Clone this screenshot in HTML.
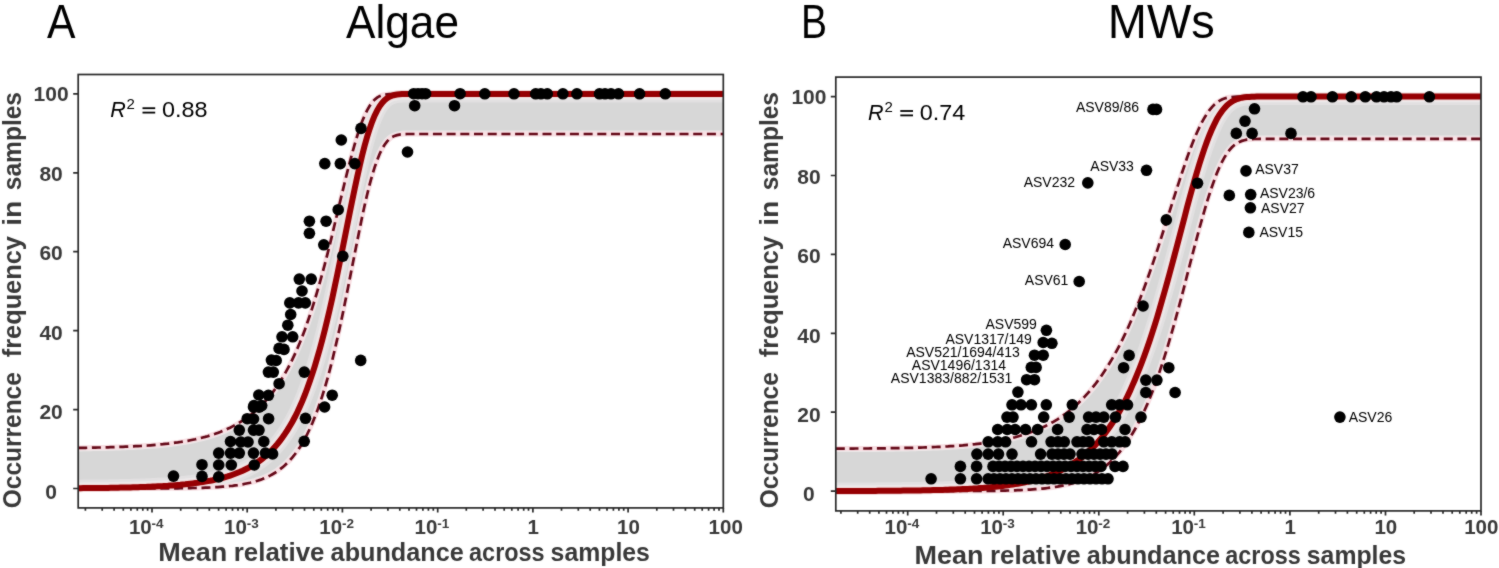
<!DOCTYPE html>
<html><head><meta charset="utf-8"><style>
html,body{margin:0;padding:0;background:#fff;width:1499px;height:568px;overflow:hidden}
svg{display:block;will-change:transform}
text{font-family:"Liberation Sans", sans-serif}
</style></head><body>
<svg width="1499" height="568" viewBox="0 0 1499 568" font-family="'Liberation Sans', sans-serif">
<defs><filter id="soft" x="0" y="0" width="1499" height="568" filterUnits="userSpaceOnUse" color-interpolation-filters="sRGB"><feConvolveMatrix order="3" kernelMatrix="1 2 1 2 20 2 1 2 1" edgeMode="duplicate" preserveAlpha="true"/></filter></defs>
<g filter="url(#soft)">
<rect width="1499" height="568" fill="#fff"/>
<clipPath id="clipA"><rect x="78.2" y="74.5" width="645.0999999999999" height="433.4"/></clipPath>
<g clip-path="url(#clipA)">
<clipPath id="bandA"><path d="M78.2,447.9 L80.7,447.9 L83.2,447.8 L85.7,447.8 L88.2,447.7 L90.7,447.7 L93.1,447.6 L95.6,447.6 L98.1,447.5 L100.6,447.5 L103.1,447.4 L105.6,447.4 L108.1,447.3 L110.6,447.2 L113.1,447.2 L115.6,447.1 L118.1,447.0 L120.5,446.9 L123.0,446.8 L125.5,446.7 L128.0,446.6 L130.5,446.5 L133.0,446.4 L135.5,446.2 L138.0,446.1 L140.5,446.0 L143.0,445.8 L145.4,445.6 L147.9,445.5 L150.4,445.3 L152.9,445.1 L155.4,444.9 L157.9,444.7 L160.4,444.4 L162.9,444.2 L165.4,443.9 L167.9,443.7 L170.4,443.4 L172.8,443.1 L175.3,442.7 L177.8,442.4 L180.3,442.0 L182.8,441.6 L185.3,441.2 L187.8,440.8 L190.3,440.3 L192.8,439.8 L195.3,439.3 L197.8,438.7 L200.2,438.1 L202.7,437.5 L205.2,436.9 L207.7,436.2 L210.2,435.4 L212.7,434.6 L215.2,433.8 L217.7,432.9 L220.2,432.0 L222.7,431.0 L225.2,430.0 L227.6,428.8 L230.1,427.7 L232.6,426.4 L235.1,425.1 L237.6,423.7 L240.1,422.2 L242.6,420.7 L245.1,419.0 L247.6,417.2 L250.1,415.4 L252.6,413.4 L255.0,411.3 L257.5,409.1 L260.0,406.7 L262.5,404.2 L265.0,401.6 L267.5,398.7 L270.0,395.8 L272.5,392.6 L275.0,389.2 L277.5,385.7 L279.9,381.9 L282.4,377.9 L284.9,373.7 L287.4,369.2 L289.9,364.5 L292.4,359.4 L294.9,354.1 L297.4,348.5 L299.9,342.6 L302.4,336.3 L304.9,329.7 L307.3,322.8 L309.8,315.5 L312.3,307.8 L314.8,299.8 L317.3,291.4 L319.8,282.7 L322.3,273.7 L324.8,264.3 L327.3,254.6 L329.8,244.7 L332.3,234.5 L334.7,224.2 L337.2,213.8 L339.7,203.3 L342.2,192.9 L344.7,182.5 L347.2,172.4 L349.7,162.6 L352.2,153.2 L354.7,144.3 L357.2,136.0 L359.7,128.4 L362.1,121.6 L364.6,115.6 L367.1,110.4 L369.6,106.0 L372.1,102.5 L374.6,99.7 L377.1,97.7 L379.6,96.2 L382.1,95.2 L384.6,94.6 L387.1,94.3 L389.5,94.1 L392.0,94.0 L394.5,93.9 L397.0,93.9 L399.5,93.9 L402.0,93.9 L404.5,93.9 L407.0,93.9 L409.5,93.9 L412.0,93.9 L414.4,93.9 L416.9,93.9 L419.4,93.9 L421.9,93.9 L424.4,93.9 L426.9,93.9 L429.4,93.9 L431.9,93.9 L434.4,93.9 L436.9,93.9 L439.4,93.9 L441.8,93.9 L444.3,93.9 L446.8,93.9 L449.3,93.9 L451.8,93.9 L454.3,93.9 L456.8,93.9 L459.3,93.9 L461.8,93.9 L464.3,93.9 L466.8,93.9 L469.2,93.9 L471.7,93.9 L474.2,93.9 L476.7,93.9 L479.2,93.9 L481.7,93.9 L484.2,93.9 L486.7,93.9 L489.2,93.9 L491.7,93.9 L494.2,93.9 L496.6,93.9 L499.1,93.9 L501.6,93.9 L504.1,93.9 L506.6,93.9 L509.1,93.9 L511.6,93.9 L514.1,93.9 L516.6,93.9 L519.1,93.9 L521.6,93.9 L524.0,93.9 L526.5,93.9 L529.0,93.9 L531.5,93.9 L534.0,93.9 L536.5,93.9 L539.0,93.9 L541.5,93.9 L544.0,93.9 L546.5,93.9 L548.9,93.9 L551.4,93.9 L553.9,93.9 L556.4,93.9 L558.9,93.9 L561.4,93.9 L563.9,93.9 L566.4,93.9 L568.9,93.9 L571.4,93.9 L573.9,93.9 L576.3,93.9 L578.8,93.9 L581.3,93.9 L583.8,93.9 L586.3,93.9 L588.8,93.9 L591.3,93.9 L593.8,93.9 L596.3,93.9 L598.8,93.9 L601.3,93.9 L603.7,93.9 L606.2,93.9 L608.7,93.9 L611.2,93.9 L613.7,93.9 L616.2,93.9 L618.7,93.9 L621.2,93.9 L623.7,93.9 L626.2,93.9 L628.7,93.9 L631.1,93.9 L633.6,93.9 L636.1,93.9 L638.6,93.9 L641.1,93.9 L643.6,93.9 L646.1,93.9 L648.6,93.9 L651.1,93.9 L653.6,93.9 L656.1,93.9 L658.5,93.9 L661.0,93.9 L663.5,93.9 L666.0,93.9 L668.5,93.9 L671.0,93.9 L673.5,93.9 L676.0,93.9 L678.5,93.9 L681.0,93.9 L683.4,93.9 L685.9,93.9 L688.4,93.9 L690.9,93.9 L693.4,93.9 L695.9,93.9 L698.4,93.9 L700.9,93.9 L703.4,93.9 L705.9,93.9 L708.4,93.9 L710.8,93.9 L713.3,93.9 L715.8,93.9 L718.3,93.9 L720.8,93.9 L723.3,93.9 L723.3,134.0 L720.8,134.0 L718.3,134.0 L715.8,134.0 L713.3,134.0 L710.8,134.0 L708.4,134.0 L705.9,134.0 L703.4,134.0 L700.9,134.0 L698.4,134.0 L695.9,134.0 L693.4,134.0 L690.9,134.0 L688.4,134.0 L685.9,134.0 L683.4,134.0 L681.0,134.0 L678.5,134.0 L676.0,134.0 L673.5,134.0 L671.0,134.0 L668.5,134.0 L666.0,134.0 L663.5,134.0 L661.0,134.0 L658.5,134.0 L656.1,134.0 L653.6,134.0 L651.1,134.0 L648.6,134.0 L646.1,134.0 L643.6,134.0 L641.1,134.0 L638.6,134.0 L636.1,134.0 L633.6,134.0 L631.1,134.0 L628.7,134.0 L626.2,134.0 L623.7,134.0 L621.2,134.0 L618.7,134.0 L616.2,134.0 L613.7,134.0 L611.2,134.0 L608.7,134.0 L606.2,134.0 L603.7,134.0 L601.3,134.0 L598.8,134.0 L596.3,134.0 L593.8,134.0 L591.3,134.0 L588.8,134.0 L586.3,134.0 L583.8,134.0 L581.3,134.0 L578.8,134.0 L576.3,134.0 L573.9,134.0 L571.4,134.0 L568.9,134.0 L566.4,134.0 L563.9,134.0 L561.4,134.0 L558.9,134.0 L556.4,134.0 L553.9,134.0 L551.4,134.0 L548.9,134.0 L546.5,134.0 L544.0,134.0 L541.5,134.0 L539.0,134.0 L536.5,134.0 L534.0,134.0 L531.5,134.0 L529.0,134.0 L526.5,134.0 L524.0,134.0 L521.6,134.0 L519.1,134.0 L516.6,134.0 L514.1,134.0 L511.6,134.0 L509.1,134.0 L506.6,134.0 L504.1,134.0 L501.6,134.0 L499.1,134.0 L496.6,134.0 L494.2,134.0 L491.7,134.0 L489.2,134.0 L486.7,134.0 L484.2,134.0 L481.7,134.0 L479.2,134.0 L476.7,134.0 L474.2,134.0 L471.7,134.0 L469.2,134.0 L466.8,134.0 L464.3,134.0 L461.8,134.0 L459.3,134.0 L456.8,134.0 L454.3,134.0 L451.8,134.0 L449.3,134.0 L446.8,134.0 L444.3,134.0 L441.8,134.0 L439.4,134.0 L436.9,134.0 L434.4,134.0 L431.9,134.0 L429.4,134.0 L426.9,134.0 L424.4,134.0 L421.9,134.0 L419.4,134.0 L416.9,134.0 L414.4,134.0 L412.0,134.0 L409.5,134.0 L407.0,134.0 L404.5,134.1 L402.0,134.3 L399.5,134.6 L397.0,135.1 L394.5,135.9 L392.0,137.1 L389.5,138.9 L387.1,141.4 L384.6,144.7 L382.1,148.8 L379.6,154.0 L377.1,160.2 L374.6,167.4 L372.1,175.6 L369.6,184.7 L367.1,194.7 L364.6,205.5 L362.1,216.9 L359.7,228.8 L357.2,241.2 L354.7,253.7 L352.2,266.4 L349.7,279.1 L347.2,291.7 L344.7,304.1 L342.2,316.2 L339.7,327.9 L337.2,339.1 L334.7,349.9 L332.3,360.2 L329.8,369.9 L327.3,379.2 L324.8,387.8 L322.3,395.9 L319.8,403.5 L317.3,410.6 L314.8,417.1 L312.3,423.2 L309.8,428.8 L307.3,434.0 L304.9,438.8 L302.4,443.2 L299.9,447.2 L297.4,450.9 L294.9,454.3 L292.4,457.4 L289.9,460.2 L287.4,462.8 L284.9,465.2 L282.4,467.4 L279.9,469.3 L277.5,471.1 L275.0,472.8 L272.5,474.2 L270.0,475.6 L267.5,476.8 L265.0,477.9 L262.5,479.0 L260.0,479.9 L257.5,480.7 L255.0,481.5 L252.6,482.2 L250.1,482.8 L247.6,483.3 L245.1,483.8 L242.6,484.3 L240.1,484.7 L237.6,485.1 L235.1,485.4 L232.6,485.8 L230.1,486.0 L227.6,486.3 L225.2,486.5 L222.7,486.7 L220.2,486.9 L217.7,487.1 L215.2,487.2 L212.7,487.3 L210.2,487.5 L207.7,487.6 L205.2,487.7 L202.7,487.8 L200.2,487.8 L197.8,487.9 L195.3,488.0 L192.8,488.0 L190.3,488.1 L187.8,488.1 L185.3,488.2 L182.8,488.2 L180.3,488.2 L177.8,488.3 L175.3,488.3 L172.8,488.3 L170.4,488.3 L167.9,488.3 L165.4,488.4 L162.9,488.4 L160.4,488.4 L157.9,488.4 L155.4,488.4 L152.9,488.4 L150.4,488.4 L147.9,488.4 L145.4,488.4 L143.0,488.5 L140.5,488.5 L138.0,488.5 L135.5,488.5 L133.0,488.5 L130.5,488.5 L128.0,488.5 L125.5,488.5 L123.0,488.5 L120.5,488.5 L118.1,488.5 L115.6,488.5 L113.1,488.5 L110.6,488.5 L108.1,488.5 L105.6,488.5 L103.1,488.5 L100.6,488.5 L98.1,488.5 L95.6,488.5 L93.1,488.5 L90.7,488.5 L88.2,488.5 L85.7,488.5 L83.2,488.5 L80.7,488.5 L78.2,488.5 Z"/></clipPath>
<path d="M78.2,447.9 L80.7,447.9 L83.2,447.8 L85.7,447.8 L88.2,447.7 L90.7,447.7 L93.1,447.6 L95.6,447.6 L98.1,447.5 L100.6,447.5 L103.1,447.4 L105.6,447.4 L108.1,447.3 L110.6,447.2 L113.1,447.2 L115.6,447.1 L118.1,447.0 L120.5,446.9 L123.0,446.8 L125.5,446.7 L128.0,446.6 L130.5,446.5 L133.0,446.4 L135.5,446.2 L138.0,446.1 L140.5,446.0 L143.0,445.8 L145.4,445.6 L147.9,445.5 L150.4,445.3 L152.9,445.1 L155.4,444.9 L157.9,444.7 L160.4,444.4 L162.9,444.2 L165.4,443.9 L167.9,443.7 L170.4,443.4 L172.8,443.1 L175.3,442.7 L177.8,442.4 L180.3,442.0 L182.8,441.6 L185.3,441.2 L187.8,440.8 L190.3,440.3 L192.8,439.8 L195.3,439.3 L197.8,438.7 L200.2,438.1 L202.7,437.5 L205.2,436.9 L207.7,436.2 L210.2,435.4 L212.7,434.6 L215.2,433.8 L217.7,432.9 L220.2,432.0 L222.7,431.0 L225.2,430.0 L227.6,428.8 L230.1,427.7 L232.6,426.4 L235.1,425.1 L237.6,423.7 L240.1,422.2 L242.6,420.7 L245.1,419.0 L247.6,417.2 L250.1,415.4 L252.6,413.4 L255.0,411.3 L257.5,409.1 L260.0,406.7 L262.5,404.2 L265.0,401.6 L267.5,398.7 L270.0,395.8 L272.5,392.6 L275.0,389.2 L277.5,385.7 L279.9,381.9 L282.4,377.9 L284.9,373.7 L287.4,369.2 L289.9,364.5 L292.4,359.4 L294.9,354.1 L297.4,348.5 L299.9,342.6 L302.4,336.3 L304.9,329.7 L307.3,322.8 L309.8,315.5 L312.3,307.8 L314.8,299.8 L317.3,291.4 L319.8,282.7 L322.3,273.7 L324.8,264.3 L327.3,254.6 L329.8,244.7 L332.3,234.5 L334.7,224.2 L337.2,213.8 L339.7,203.3 L342.2,192.9 L344.7,182.5 L347.2,172.4 L349.7,162.6 L352.2,153.2 L354.7,144.3 L357.2,136.0 L359.7,128.4 L362.1,121.6 L364.6,115.6 L367.1,110.4 L369.6,106.0 L372.1,102.5 L374.6,99.7 L377.1,97.7 L379.6,96.2 L382.1,95.2 L384.6,94.6 L387.1,94.3 L389.5,94.1 L392.0,94.0 L394.5,93.9 L397.0,93.9 L399.5,93.9 L402.0,93.9 L404.5,93.9 L407.0,93.9 L409.5,93.9 L412.0,93.9 L414.4,93.9 L416.9,93.9 L419.4,93.9 L421.9,93.9 L424.4,93.9 L426.9,93.9 L429.4,93.9 L431.9,93.9 L434.4,93.9 L436.9,93.9 L439.4,93.9 L441.8,93.9 L444.3,93.9 L446.8,93.9 L449.3,93.9 L451.8,93.9 L454.3,93.9 L456.8,93.9 L459.3,93.9 L461.8,93.9 L464.3,93.9 L466.8,93.9 L469.2,93.9 L471.7,93.9 L474.2,93.9 L476.7,93.9 L479.2,93.9 L481.7,93.9 L484.2,93.9 L486.7,93.9 L489.2,93.9 L491.7,93.9 L494.2,93.9 L496.6,93.9 L499.1,93.9 L501.6,93.9 L504.1,93.9 L506.6,93.9 L509.1,93.9 L511.6,93.9 L514.1,93.9 L516.6,93.9 L519.1,93.9 L521.6,93.9 L524.0,93.9 L526.5,93.9 L529.0,93.9 L531.5,93.9 L534.0,93.9 L536.5,93.9 L539.0,93.9 L541.5,93.9 L544.0,93.9 L546.5,93.9 L548.9,93.9 L551.4,93.9 L553.9,93.9 L556.4,93.9 L558.9,93.9 L561.4,93.9 L563.9,93.9 L566.4,93.9 L568.9,93.9 L571.4,93.9 L573.9,93.9 L576.3,93.9 L578.8,93.9 L581.3,93.9 L583.8,93.9 L586.3,93.9 L588.8,93.9 L591.3,93.9 L593.8,93.9 L596.3,93.9 L598.8,93.9 L601.3,93.9 L603.7,93.9 L606.2,93.9 L608.7,93.9 L611.2,93.9 L613.7,93.9 L616.2,93.9 L618.7,93.9 L621.2,93.9 L623.7,93.9 L626.2,93.9 L628.7,93.9 L631.1,93.9 L633.6,93.9 L636.1,93.9 L638.6,93.9 L641.1,93.9 L643.6,93.9 L646.1,93.9 L648.6,93.9 L651.1,93.9 L653.6,93.9 L656.1,93.9 L658.5,93.9 L661.0,93.9 L663.5,93.9 L666.0,93.9 L668.5,93.9 L671.0,93.9 L673.5,93.9 L676.0,93.9 L678.5,93.9 L681.0,93.9 L683.4,93.9 L685.9,93.9 L688.4,93.9 L690.9,93.9 L693.4,93.9 L695.9,93.9 L698.4,93.9 L700.9,93.9 L703.4,93.9 L705.9,93.9 L708.4,93.9 L710.8,93.9 L713.3,93.9 L715.8,93.9 L718.3,93.9 L720.8,93.9 L723.3,93.9 L723.3,134.0 L720.8,134.0 L718.3,134.0 L715.8,134.0 L713.3,134.0 L710.8,134.0 L708.4,134.0 L705.9,134.0 L703.4,134.0 L700.9,134.0 L698.4,134.0 L695.9,134.0 L693.4,134.0 L690.9,134.0 L688.4,134.0 L685.9,134.0 L683.4,134.0 L681.0,134.0 L678.5,134.0 L676.0,134.0 L673.5,134.0 L671.0,134.0 L668.5,134.0 L666.0,134.0 L663.5,134.0 L661.0,134.0 L658.5,134.0 L656.1,134.0 L653.6,134.0 L651.1,134.0 L648.6,134.0 L646.1,134.0 L643.6,134.0 L641.1,134.0 L638.6,134.0 L636.1,134.0 L633.6,134.0 L631.1,134.0 L628.7,134.0 L626.2,134.0 L623.7,134.0 L621.2,134.0 L618.7,134.0 L616.2,134.0 L613.7,134.0 L611.2,134.0 L608.7,134.0 L606.2,134.0 L603.7,134.0 L601.3,134.0 L598.8,134.0 L596.3,134.0 L593.8,134.0 L591.3,134.0 L588.8,134.0 L586.3,134.0 L583.8,134.0 L581.3,134.0 L578.8,134.0 L576.3,134.0 L573.9,134.0 L571.4,134.0 L568.9,134.0 L566.4,134.0 L563.9,134.0 L561.4,134.0 L558.9,134.0 L556.4,134.0 L553.9,134.0 L551.4,134.0 L548.9,134.0 L546.5,134.0 L544.0,134.0 L541.5,134.0 L539.0,134.0 L536.5,134.0 L534.0,134.0 L531.5,134.0 L529.0,134.0 L526.5,134.0 L524.0,134.0 L521.6,134.0 L519.1,134.0 L516.6,134.0 L514.1,134.0 L511.6,134.0 L509.1,134.0 L506.6,134.0 L504.1,134.0 L501.6,134.0 L499.1,134.0 L496.6,134.0 L494.2,134.0 L491.7,134.0 L489.2,134.0 L486.7,134.0 L484.2,134.0 L481.7,134.0 L479.2,134.0 L476.7,134.0 L474.2,134.0 L471.7,134.0 L469.2,134.0 L466.8,134.0 L464.3,134.0 L461.8,134.0 L459.3,134.0 L456.8,134.0 L454.3,134.0 L451.8,134.0 L449.3,134.0 L446.8,134.0 L444.3,134.0 L441.8,134.0 L439.4,134.0 L436.9,134.0 L434.4,134.0 L431.9,134.0 L429.4,134.0 L426.9,134.0 L424.4,134.0 L421.9,134.0 L419.4,134.0 L416.9,134.0 L414.4,134.0 L412.0,134.0 L409.5,134.0 L407.0,134.0 L404.5,134.1 L402.0,134.3 L399.5,134.6 L397.0,135.1 L394.5,135.9 L392.0,137.1 L389.5,138.9 L387.1,141.4 L384.6,144.7 L382.1,148.8 L379.6,154.0 L377.1,160.2 L374.6,167.4 L372.1,175.6 L369.6,184.7 L367.1,194.7 L364.6,205.5 L362.1,216.9 L359.7,228.8 L357.2,241.2 L354.7,253.7 L352.2,266.4 L349.7,279.1 L347.2,291.7 L344.7,304.1 L342.2,316.2 L339.7,327.9 L337.2,339.1 L334.7,349.9 L332.3,360.2 L329.8,369.9 L327.3,379.2 L324.8,387.8 L322.3,395.9 L319.8,403.5 L317.3,410.6 L314.8,417.1 L312.3,423.2 L309.8,428.8 L307.3,434.0 L304.9,438.8 L302.4,443.2 L299.9,447.2 L297.4,450.9 L294.9,454.3 L292.4,457.4 L289.9,460.2 L287.4,462.8 L284.9,465.2 L282.4,467.4 L279.9,469.3 L277.5,471.1 L275.0,472.8 L272.5,474.2 L270.0,475.6 L267.5,476.8 L265.0,477.9 L262.5,479.0 L260.0,479.9 L257.5,480.7 L255.0,481.5 L252.6,482.2 L250.1,482.8 L247.6,483.3 L245.1,483.8 L242.6,484.3 L240.1,484.7 L237.6,485.1 L235.1,485.4 L232.6,485.8 L230.1,486.0 L227.6,486.3 L225.2,486.5 L222.7,486.7 L220.2,486.9 L217.7,487.1 L215.2,487.2 L212.7,487.3 L210.2,487.5 L207.7,487.6 L205.2,487.7 L202.7,487.8 L200.2,487.8 L197.8,487.9 L195.3,488.0 L192.8,488.0 L190.3,488.1 L187.8,488.1 L185.3,488.2 L182.8,488.2 L180.3,488.2 L177.8,488.3 L175.3,488.3 L172.8,488.3 L170.4,488.3 L167.9,488.3 L165.4,488.4 L162.9,488.4 L160.4,488.4 L157.9,488.4 L155.4,488.4 L152.9,488.4 L150.4,488.4 L147.9,488.4 L145.4,488.4 L143.0,488.5 L140.5,488.5 L138.0,488.5 L135.5,488.5 L133.0,488.5 L130.5,488.5 L128.0,488.5 L125.5,488.5 L123.0,488.5 L120.5,488.5 L118.1,488.5 L115.6,488.5 L113.1,488.5 L110.6,488.5 L108.1,488.5 L105.6,488.5 L103.1,488.5 L100.6,488.5 L98.1,488.5 L95.6,488.5 L93.1,488.5 L90.7,488.5 L88.2,488.5 L85.7,488.5 L83.2,488.5 L80.7,488.5 L78.2,488.5 Z" fill="#d7d7d7"/>
<g clip-path="url(#bandA)">
<path d="M78.2,488.2 L80.7,488.2 L83.2,488.1 L85.7,488.1 L88.2,488.1 L90.7,488.1 L93.1,488.1 L95.6,488.0 L98.1,488.0 L100.6,488.0 L103.1,487.9 L105.6,487.9 L108.1,487.9 L110.6,487.8 L113.1,487.8 L115.6,487.7 L118.1,487.7 L120.5,487.6 L123.0,487.6 L125.5,487.5 L128.0,487.5 L130.5,487.4 L133.0,487.3 L135.5,487.3 L138.0,487.2 L140.5,487.1 L143.0,487.0 L145.4,486.9 L147.9,486.8 L150.4,486.7 L152.9,486.6 L155.4,486.5 L157.9,486.3 L160.4,486.2 L162.9,486.1 L165.4,485.9 L167.9,485.8 L170.4,485.6 L172.8,485.4 L175.3,485.2 L177.8,485.0 L180.3,484.8 L182.8,484.5 L185.3,484.3 L187.8,484.0 L190.3,483.7 L192.8,483.4 L195.3,483.1 L197.8,482.8 L200.2,482.4 L202.7,482.0 L205.2,481.6 L207.7,481.1 L210.2,480.7 L212.7,480.2 L215.2,479.6 L217.7,479.1 L220.2,478.5 L222.7,477.8 L225.2,477.1 L227.6,476.4 L230.1,475.6 L232.6,474.7 L235.1,473.8 L237.6,472.8 L240.1,471.8 L242.6,470.7 L245.1,469.5 L247.6,468.3 L250.1,466.9 L252.6,465.5 L255.0,463.9 L257.5,462.3 L260.0,460.5 L262.5,458.6 L265.0,456.5 L267.5,454.3 L270.0,452.0 L272.5,449.5 L275.0,446.8 L277.5,443.9 L279.9,440.8 L282.4,437.5 L284.9,433.9 L287.4,430.1 L289.9,426.0 L292.4,421.7 L294.9,417.0 L297.4,412.0 L299.9,406.6 L302.4,400.9 L304.9,394.7 L307.3,388.2 L309.8,381.3 L312.3,373.9 L314.8,366.1 L317.3,357.7 L319.8,349.0 L322.3,339.7 L324.8,330.0 L327.3,319.8 L329.8,309.1 L332.3,298.1 L334.7,286.6 L337.2,274.8 L339.7,262.7 L342.2,250.4 L344.7,237.9 L347.2,225.4 L349.7,212.9 L352.2,200.6 L354.7,188.6 L357.2,177.0 L359.7,165.9 L362.1,155.5 L364.6,145.8 L367.1,136.9 L369.6,128.9 L372.1,121.8 L374.6,115.7 L377.1,110.6 L379.6,106.3 L382.1,102.9 L384.6,100.2 L387.1,98.2 L389.5,96.7 L392.0,95.7 L394.5,95.0 L397.0,94.5 L399.5,94.3 L402.0,94.1 L404.5,94.0 L407.0,93.9 L409.5,93.9 L412.0,93.9 L414.4,93.9 L416.9,93.9 L419.4,93.9 L421.9,93.9 L424.4,93.9 L426.9,93.9 L429.4,93.9 L431.9,93.9 L434.4,93.9 L436.9,93.9 L439.4,93.9 L441.8,93.9 L444.3,93.9 L446.8,93.9 L449.3,93.9 L451.8,93.9 L454.3,93.9 L456.8,93.9 L459.3,93.9 L461.8,93.9 L464.3,93.9 L466.8,93.9 L469.2,93.9 L471.7,93.9 L474.2,93.9 L476.7,93.9 L479.2,93.9 L481.7,93.9 L484.2,93.9 L486.7,93.9 L489.2,93.9 L491.7,93.9 L494.2,93.9 L496.6,93.9 L499.1,93.9 L501.6,93.9 L504.1,93.9 L506.6,93.9 L509.1,93.9 L511.6,93.9 L514.1,93.9 L516.6,93.9 L519.1,93.9 L521.6,93.9 L524.0,93.9 L526.5,93.9 L529.0,93.9 L531.5,93.9 L534.0,93.9 L536.5,93.9 L539.0,93.9 L541.5,93.9 L544.0,93.9 L546.5,93.9 L548.9,93.9 L551.4,93.9 L553.9,93.9 L556.4,93.9 L558.9,93.9 L561.4,93.9 L563.9,93.9 L566.4,93.9 L568.9,93.9 L571.4,93.9 L573.9,93.9 L576.3,93.9 L578.8,93.9 L581.3,93.9 L583.8,93.9 L586.3,93.9 L588.8,93.9 L591.3,93.9 L593.8,93.9 L596.3,93.9 L598.8,93.9 L601.3,93.9 L603.7,93.9 L606.2,93.9 L608.7,93.9 L611.2,93.9 L613.7,93.9 L616.2,93.9 L618.7,93.9 L621.2,93.9 L623.7,93.9 L626.2,93.9 L628.7,93.9 L631.1,93.9 L633.6,93.9 L636.1,93.9 L638.6,93.9 L641.1,93.9 L643.6,93.9 L646.1,93.9 L648.6,93.9 L651.1,93.9 L653.6,93.9 L656.1,93.9 L658.5,93.9 L661.0,93.9 L663.5,93.9 L666.0,93.9 L668.5,93.9 L671.0,93.9 L673.5,93.9 L676.0,93.9 L678.5,93.9 L681.0,93.9 L683.4,93.9 L685.9,93.9 L688.4,93.9 L690.9,93.9 L693.4,93.9 L695.9,93.9 L698.4,93.9 L700.9,93.9 L703.4,93.9 L705.9,93.9 L708.4,93.9 L710.8,93.9 L713.3,93.9 L715.8,93.9 L718.3,93.9 L720.8,93.9 L723.3,93.9" fill="none" stroke="#e2e0e1" stroke-width="17"/>
<path d="M78.2,488.2 L80.7,488.2 L83.2,488.1 L85.7,488.1 L88.2,488.1 L90.7,488.1 L93.1,488.1 L95.6,488.0 L98.1,488.0 L100.6,488.0 L103.1,487.9 L105.6,487.9 L108.1,487.9 L110.6,487.8 L113.1,487.8 L115.6,487.7 L118.1,487.7 L120.5,487.6 L123.0,487.6 L125.5,487.5 L128.0,487.5 L130.5,487.4 L133.0,487.3 L135.5,487.3 L138.0,487.2 L140.5,487.1 L143.0,487.0 L145.4,486.9 L147.9,486.8 L150.4,486.7 L152.9,486.6 L155.4,486.5 L157.9,486.3 L160.4,486.2 L162.9,486.1 L165.4,485.9 L167.9,485.8 L170.4,485.6 L172.8,485.4 L175.3,485.2 L177.8,485.0 L180.3,484.8 L182.8,484.5 L185.3,484.3 L187.8,484.0 L190.3,483.7 L192.8,483.4 L195.3,483.1 L197.8,482.8 L200.2,482.4 L202.7,482.0 L205.2,481.6 L207.7,481.1 L210.2,480.7 L212.7,480.2 L215.2,479.6 L217.7,479.1 L220.2,478.5 L222.7,477.8 L225.2,477.1 L227.6,476.4 L230.1,475.6 L232.6,474.7 L235.1,473.8 L237.6,472.8 L240.1,471.8 L242.6,470.7 L245.1,469.5 L247.6,468.3 L250.1,466.9 L252.6,465.5 L255.0,463.9 L257.5,462.3 L260.0,460.5 L262.5,458.6 L265.0,456.5 L267.5,454.3 L270.0,452.0 L272.5,449.5 L275.0,446.8 L277.5,443.9 L279.9,440.8 L282.4,437.5 L284.9,433.9 L287.4,430.1 L289.9,426.0 L292.4,421.7 L294.9,417.0 L297.4,412.0 L299.9,406.6 L302.4,400.9 L304.9,394.7 L307.3,388.2 L309.8,381.3 L312.3,373.9 L314.8,366.1 L317.3,357.7 L319.8,349.0 L322.3,339.7 L324.8,330.0 L327.3,319.8 L329.8,309.1 L332.3,298.1 L334.7,286.6 L337.2,274.8 L339.7,262.7 L342.2,250.4 L344.7,237.9 L347.2,225.4 L349.7,212.9 L352.2,200.6 L354.7,188.6 L357.2,177.0 L359.7,165.9 L362.1,155.5 L364.6,145.8 L367.1,136.9 L369.6,128.9 L372.1,121.8 L374.6,115.7 L377.1,110.6 L379.6,106.3 L382.1,102.9 L384.6,100.2 L387.1,98.2 L389.5,96.7 L392.0,95.7 L394.5,95.0 L397.0,94.5 L399.5,94.3 L402.0,94.1 L404.5,94.0 L407.0,93.9 L409.5,93.9 L412.0,93.9 L414.4,93.9 L416.9,93.9 L419.4,93.9 L421.9,93.9 L424.4,93.9 L426.9,93.9 L429.4,93.9 L431.9,93.9 L434.4,93.9 L436.9,93.9 L439.4,93.9 L441.8,93.9 L444.3,93.9 L446.8,93.9 L449.3,93.9 L451.8,93.9 L454.3,93.9 L456.8,93.9 L459.3,93.9 L461.8,93.9 L464.3,93.9 L466.8,93.9 L469.2,93.9 L471.7,93.9 L474.2,93.9 L476.7,93.9 L479.2,93.9 L481.7,93.9 L484.2,93.9 L486.7,93.9 L489.2,93.9 L491.7,93.9 L494.2,93.9 L496.6,93.9 L499.1,93.9 L501.6,93.9 L504.1,93.9 L506.6,93.9 L509.1,93.9 L511.6,93.9 L514.1,93.9 L516.6,93.9 L519.1,93.9 L521.6,93.9 L524.0,93.9 L526.5,93.9 L529.0,93.9 L531.5,93.9 L534.0,93.9 L536.5,93.9 L539.0,93.9 L541.5,93.9 L544.0,93.9 L546.5,93.9 L548.9,93.9 L551.4,93.9 L553.9,93.9 L556.4,93.9 L558.9,93.9 L561.4,93.9 L563.9,93.9 L566.4,93.9 L568.9,93.9 L571.4,93.9 L573.9,93.9 L576.3,93.9 L578.8,93.9 L581.3,93.9 L583.8,93.9 L586.3,93.9 L588.8,93.9 L591.3,93.9 L593.8,93.9 L596.3,93.9 L598.8,93.9 L601.3,93.9 L603.7,93.9 L606.2,93.9 L608.7,93.9 L611.2,93.9 L613.7,93.9 L616.2,93.9 L618.7,93.9 L621.2,93.9 L623.7,93.9 L626.2,93.9 L628.7,93.9 L631.1,93.9 L633.6,93.9 L636.1,93.9 L638.6,93.9 L641.1,93.9 L643.6,93.9 L646.1,93.9 L648.6,93.9 L651.1,93.9 L653.6,93.9 L656.1,93.9 L658.5,93.9 L661.0,93.9 L663.5,93.9 L666.0,93.9 L668.5,93.9 L671.0,93.9 L673.5,93.9 L676.0,93.9 L678.5,93.9 L681.0,93.9 L683.4,93.9 L685.9,93.9 L688.4,93.9 L690.9,93.9 L693.4,93.9 L695.9,93.9 L698.4,93.9 L700.9,93.9 L703.4,93.9 L705.9,93.9 L708.4,93.9 L710.8,93.9 L713.3,93.9 L715.8,93.9 L718.3,93.9 L720.8,93.9 L723.3,93.9" fill="none" stroke="#ece8e9" stroke-width="11.5"/>
<path d="M78.2,447.9 L80.7,447.9 L83.2,447.8 L85.7,447.8 L88.2,447.7 L90.7,447.7 L93.1,447.6 L95.6,447.6 L98.1,447.5 L100.6,447.5 L103.1,447.4 L105.6,447.4 L108.1,447.3 L110.6,447.2 L113.1,447.2 L115.6,447.1 L118.1,447.0 L120.5,446.9 L123.0,446.8 L125.5,446.7 L128.0,446.6 L130.5,446.5 L133.0,446.4 L135.5,446.2 L138.0,446.1 L140.5,446.0 L143.0,445.8 L145.4,445.6 L147.9,445.5 L150.4,445.3 L152.9,445.1 L155.4,444.9 L157.9,444.7 L160.4,444.4 L162.9,444.2 L165.4,443.9 L167.9,443.7 L170.4,443.4 L172.8,443.1 L175.3,442.7 L177.8,442.4 L180.3,442.0 L182.8,441.6 L185.3,441.2 L187.8,440.8 L190.3,440.3 L192.8,439.8 L195.3,439.3 L197.8,438.7 L200.2,438.1 L202.7,437.5 L205.2,436.9 L207.7,436.2 L210.2,435.4 L212.7,434.6 L215.2,433.8 L217.7,432.9 L220.2,432.0 L222.7,431.0 L225.2,430.0 L227.6,428.8 L230.1,427.7 L232.6,426.4 L235.1,425.1 L237.6,423.7 L240.1,422.2 L242.6,420.7 L245.1,419.0 L247.6,417.2 L250.1,415.4 L252.6,413.4 L255.0,411.3 L257.5,409.1 L260.0,406.7 L262.5,404.2 L265.0,401.6 L267.5,398.7 L270.0,395.8 L272.5,392.6 L275.0,389.2 L277.5,385.7 L279.9,381.9 L282.4,377.9 L284.9,373.7 L287.4,369.2 L289.9,364.5 L292.4,359.4 L294.9,354.1 L297.4,348.5 L299.9,342.6 L302.4,336.3 L304.9,329.7 L307.3,322.8 L309.8,315.5 L312.3,307.8 L314.8,299.8 L317.3,291.4 L319.8,282.7 L322.3,273.7 L324.8,264.3 L327.3,254.6 L329.8,244.7 L332.3,234.5 L334.7,224.2 L337.2,213.8 L339.7,203.3 L342.2,192.9 L344.7,182.5 L347.2,172.4 L349.7,162.6 L352.2,153.2 L354.7,144.3 L357.2,136.0 L359.7,128.4 L362.1,121.6 L364.6,115.6 L367.1,110.4 L369.6,106.0 L372.1,102.5 L374.6,99.7 L377.1,97.7 L379.6,96.2 L382.1,95.2 L384.6,94.6 L387.1,94.3 L389.5,94.1 L392.0,94.0 L394.5,93.9 L397.0,93.9 L399.5,93.9 L402.0,93.9 L404.5,93.9 L407.0,93.9 L409.5,93.9 L412.0,93.9 L414.4,93.9 L416.9,93.9 L419.4,93.9 L421.9,93.9 L424.4,93.9 L426.9,93.9 L429.4,93.9 L431.9,93.9 L434.4,93.9 L436.9,93.9 L439.4,93.9 L441.8,93.9 L444.3,93.9 L446.8,93.9 L449.3,93.9 L451.8,93.9 L454.3,93.9 L456.8,93.9 L459.3,93.9 L461.8,93.9 L464.3,93.9 L466.8,93.9 L469.2,93.9 L471.7,93.9 L474.2,93.9 L476.7,93.9 L479.2,93.9 L481.7,93.9 L484.2,93.9 L486.7,93.9 L489.2,93.9 L491.7,93.9 L494.2,93.9 L496.6,93.9 L499.1,93.9 L501.6,93.9 L504.1,93.9 L506.6,93.9 L509.1,93.9 L511.6,93.9 L514.1,93.9 L516.6,93.9 L519.1,93.9 L521.6,93.9 L524.0,93.9 L526.5,93.9 L529.0,93.9 L531.5,93.9 L534.0,93.9 L536.5,93.9 L539.0,93.9 L541.5,93.9 L544.0,93.9 L546.5,93.9 L548.9,93.9 L551.4,93.9 L553.9,93.9 L556.4,93.9 L558.9,93.9 L561.4,93.9 L563.9,93.9 L566.4,93.9 L568.9,93.9 L571.4,93.9 L573.9,93.9 L576.3,93.9 L578.8,93.9 L581.3,93.9 L583.8,93.9 L586.3,93.9 L588.8,93.9 L591.3,93.9 L593.8,93.9 L596.3,93.9 L598.8,93.9 L601.3,93.9 L603.7,93.9 L606.2,93.9 L608.7,93.9 L611.2,93.9 L613.7,93.9 L616.2,93.9 L618.7,93.9 L621.2,93.9 L623.7,93.9 L626.2,93.9 L628.7,93.9 L631.1,93.9 L633.6,93.9 L636.1,93.9 L638.6,93.9 L641.1,93.9 L643.6,93.9 L646.1,93.9 L648.6,93.9 L651.1,93.9 L653.6,93.9 L656.1,93.9 L658.5,93.9 L661.0,93.9 L663.5,93.9 L666.0,93.9 L668.5,93.9 L671.0,93.9 L673.5,93.9 L676.0,93.9 L678.5,93.9 L681.0,93.9 L683.4,93.9 L685.9,93.9 L688.4,93.9 L690.9,93.9 L693.4,93.9 L695.9,93.9 L698.4,93.9 L700.9,93.9 L703.4,93.9 L705.9,93.9 L708.4,93.9 L710.8,93.9 L713.3,93.9 L715.8,93.9 L718.3,93.9 L720.8,93.9 L723.3,93.9" fill="none" stroke="#ebe7e8" stroke-width="7"/>
<path d="M78.2,488.5 L80.7,488.5 L83.2,488.5 L85.7,488.5 L88.2,488.5 L90.7,488.5 L93.1,488.5 L95.6,488.5 L98.1,488.5 L100.6,488.5 L103.1,488.5 L105.6,488.5 L108.1,488.5 L110.6,488.5 L113.1,488.5 L115.6,488.5 L118.1,488.5 L120.5,488.5 L123.0,488.5 L125.5,488.5 L128.0,488.5 L130.5,488.5 L133.0,488.5 L135.5,488.5 L138.0,488.5 L140.5,488.5 L143.0,488.5 L145.4,488.4 L147.9,488.4 L150.4,488.4 L152.9,488.4 L155.4,488.4 L157.9,488.4 L160.4,488.4 L162.9,488.4 L165.4,488.4 L167.9,488.3 L170.4,488.3 L172.8,488.3 L175.3,488.3 L177.8,488.3 L180.3,488.2 L182.8,488.2 L185.3,488.2 L187.8,488.1 L190.3,488.1 L192.8,488.0 L195.3,488.0 L197.8,487.9 L200.2,487.8 L202.7,487.8 L205.2,487.7 L207.7,487.6 L210.2,487.5 L212.7,487.3 L215.2,487.2 L217.7,487.1 L220.2,486.9 L222.7,486.7 L225.2,486.5 L227.6,486.3 L230.1,486.0 L232.6,485.8 L235.1,485.4 L237.6,485.1 L240.1,484.7 L242.6,484.3 L245.1,483.8 L247.6,483.3 L250.1,482.8 L252.6,482.2 L255.0,481.5 L257.5,480.7 L260.0,479.9 L262.5,479.0 L265.0,477.9 L267.5,476.8 L270.0,475.6 L272.5,474.2 L275.0,472.8 L277.5,471.1 L279.9,469.3 L282.4,467.4 L284.9,465.2 L287.4,462.8 L289.9,460.2 L292.4,457.4 L294.9,454.3 L297.4,450.9 L299.9,447.2 L302.4,443.2 L304.9,438.8 L307.3,434.0 L309.8,428.8 L312.3,423.2 L314.8,417.1 L317.3,410.6 L319.8,403.5 L322.3,395.9 L324.8,387.8 L327.3,379.2 L329.8,369.9 L332.3,360.2 L334.7,349.9 L337.2,339.1 L339.7,327.9 L342.2,316.2 L344.7,304.1 L347.2,291.7 L349.7,279.1 L352.2,266.4 L354.7,253.7 L357.2,241.2 L359.7,228.8 L362.1,216.9 L364.6,205.5 L367.1,194.7 L369.6,184.7 L372.1,175.6 L374.6,167.4 L377.1,160.2 L379.6,154.0 L382.1,148.8 L384.6,144.7 L387.1,141.4 L389.5,138.9 L392.0,137.1 L394.5,135.9 L397.0,135.1 L399.5,134.6 L402.0,134.3 L404.5,134.1 L407.0,134.0 L409.5,134.0 L412.0,134.0 L414.4,134.0 L416.9,134.0 L419.4,134.0 L421.9,134.0 L424.4,134.0 L426.9,134.0 L429.4,134.0 L431.9,134.0 L434.4,134.0 L436.9,134.0 L439.4,134.0 L441.8,134.0 L444.3,134.0 L446.8,134.0 L449.3,134.0 L451.8,134.0 L454.3,134.0 L456.8,134.0 L459.3,134.0 L461.8,134.0 L464.3,134.0 L466.8,134.0 L469.2,134.0 L471.7,134.0 L474.2,134.0 L476.7,134.0 L479.2,134.0 L481.7,134.0 L484.2,134.0 L486.7,134.0 L489.2,134.0 L491.7,134.0 L494.2,134.0 L496.6,134.0 L499.1,134.0 L501.6,134.0 L504.1,134.0 L506.6,134.0 L509.1,134.0 L511.6,134.0 L514.1,134.0 L516.6,134.0 L519.1,134.0 L521.6,134.0 L524.0,134.0 L526.5,134.0 L529.0,134.0 L531.5,134.0 L534.0,134.0 L536.5,134.0 L539.0,134.0 L541.5,134.0 L544.0,134.0 L546.5,134.0 L548.9,134.0 L551.4,134.0 L553.9,134.0 L556.4,134.0 L558.9,134.0 L561.4,134.0 L563.9,134.0 L566.4,134.0 L568.9,134.0 L571.4,134.0 L573.9,134.0 L576.3,134.0 L578.8,134.0 L581.3,134.0 L583.8,134.0 L586.3,134.0 L588.8,134.0 L591.3,134.0 L593.8,134.0 L596.3,134.0 L598.8,134.0 L601.3,134.0 L603.7,134.0 L606.2,134.0 L608.7,134.0 L611.2,134.0 L613.7,134.0 L616.2,134.0 L618.7,134.0 L621.2,134.0 L623.7,134.0 L626.2,134.0 L628.7,134.0 L631.1,134.0 L633.6,134.0 L636.1,134.0 L638.6,134.0 L641.1,134.0 L643.6,134.0 L646.1,134.0 L648.6,134.0 L651.1,134.0 L653.6,134.0 L656.1,134.0 L658.5,134.0 L661.0,134.0 L663.5,134.0 L666.0,134.0 L668.5,134.0 L671.0,134.0 L673.5,134.0 L676.0,134.0 L678.5,134.0 L681.0,134.0 L683.4,134.0 L685.9,134.0 L688.4,134.0 L690.9,134.0 L693.4,134.0 L695.9,134.0 L698.4,134.0 L700.9,134.0 L703.4,134.0 L705.9,134.0 L708.4,134.0 L710.8,134.0 L713.3,134.0 L715.8,134.0 L718.3,134.0 L720.8,134.0 L723.3,134.0" fill="none" stroke="#ebe7e8" stroke-width="7"/>
</g>
<path d="M78.2,447.9 L80.7,447.9 L83.2,447.8 L85.7,447.8 L88.2,447.7 L90.7,447.7 L93.1,447.6 L95.6,447.6 L98.1,447.5 L100.6,447.5 L103.1,447.4 L105.6,447.4 L108.1,447.3 L110.6,447.2 L113.1,447.2 L115.6,447.1 L118.1,447.0 L120.5,446.9 L123.0,446.8 L125.5,446.7 L128.0,446.6 L130.5,446.5 L133.0,446.4 L135.5,446.2 L138.0,446.1 L140.5,446.0 L143.0,445.8 L145.4,445.6 L147.9,445.5 L150.4,445.3 L152.9,445.1 L155.4,444.9 L157.9,444.7 L160.4,444.4 L162.9,444.2 L165.4,443.9 L167.9,443.7 L170.4,443.4 L172.8,443.1 L175.3,442.7 L177.8,442.4 L180.3,442.0 L182.8,441.6 L185.3,441.2 L187.8,440.8 L190.3,440.3 L192.8,439.8 L195.3,439.3 L197.8,438.7 L200.2,438.1 L202.7,437.5 L205.2,436.9 L207.7,436.2 L210.2,435.4 L212.7,434.6 L215.2,433.8 L217.7,432.9 L220.2,432.0 L222.7,431.0 L225.2,430.0 L227.6,428.8 L230.1,427.7 L232.6,426.4 L235.1,425.1 L237.6,423.7 L240.1,422.2 L242.6,420.7 L245.1,419.0 L247.6,417.2 L250.1,415.4 L252.6,413.4 L255.0,411.3 L257.5,409.1 L260.0,406.7 L262.5,404.2 L265.0,401.6 L267.5,398.7 L270.0,395.8 L272.5,392.6 L275.0,389.2 L277.5,385.7 L279.9,381.9 L282.4,377.9 L284.9,373.7 L287.4,369.2 L289.9,364.5 L292.4,359.4 L294.9,354.1 L297.4,348.5 L299.9,342.6 L302.4,336.3 L304.9,329.7 L307.3,322.8 L309.8,315.5 L312.3,307.8 L314.8,299.8 L317.3,291.4 L319.8,282.7 L322.3,273.7 L324.8,264.3 L327.3,254.6 L329.8,244.7 L332.3,234.5 L334.7,224.2 L337.2,213.8 L339.7,203.3 L342.2,192.9 L344.7,182.5 L347.2,172.4 L349.7,162.6 L352.2,153.2 L354.7,144.3 L357.2,136.0 L359.7,128.4 L362.1,121.6 L364.6,115.6 L367.1,110.4 L369.6,106.0 L372.1,102.5 L374.6,99.7 L377.1,97.7 L379.6,96.2 L382.1,95.2 L384.6,94.6 L387.1,94.3 L389.5,94.1 L392.0,94.0 L394.5,93.9 L397.0,93.9 L399.5,93.9 L402.0,93.9 L404.5,93.9 L407.0,93.9 L409.5,93.9 L412.0,93.9 L414.4,93.9 L416.9,93.9 L419.4,93.9 L421.9,93.9 L424.4,93.9 L426.9,93.9 L429.4,93.9 L431.9,93.9 L434.4,93.9 L436.9,93.9 L439.4,93.9 L441.8,93.9 L444.3,93.9 L446.8,93.9 L449.3,93.9 L451.8,93.9 L454.3,93.9 L456.8,93.9 L459.3,93.9 L461.8,93.9 L464.3,93.9 L466.8,93.9 L469.2,93.9 L471.7,93.9 L474.2,93.9 L476.7,93.9 L479.2,93.9 L481.7,93.9 L484.2,93.9 L486.7,93.9 L489.2,93.9 L491.7,93.9 L494.2,93.9 L496.6,93.9 L499.1,93.9 L501.6,93.9 L504.1,93.9 L506.6,93.9 L509.1,93.9 L511.6,93.9 L514.1,93.9 L516.6,93.9 L519.1,93.9 L521.6,93.9 L524.0,93.9 L526.5,93.9 L529.0,93.9 L531.5,93.9 L534.0,93.9 L536.5,93.9 L539.0,93.9 L541.5,93.9 L544.0,93.9 L546.5,93.9 L548.9,93.9 L551.4,93.9 L553.9,93.9 L556.4,93.9 L558.9,93.9 L561.4,93.9 L563.9,93.9 L566.4,93.9 L568.9,93.9 L571.4,93.9 L573.9,93.9 L576.3,93.9 L578.8,93.9 L581.3,93.9 L583.8,93.9 L586.3,93.9 L588.8,93.9 L591.3,93.9 L593.8,93.9 L596.3,93.9 L598.8,93.9 L601.3,93.9 L603.7,93.9 L606.2,93.9 L608.7,93.9 L611.2,93.9 L613.7,93.9 L616.2,93.9 L618.7,93.9 L621.2,93.9 L623.7,93.9 L626.2,93.9 L628.7,93.9 L631.1,93.9 L633.6,93.9 L636.1,93.9 L638.6,93.9 L641.1,93.9 L643.6,93.9 L646.1,93.9 L648.6,93.9 L651.1,93.9 L653.6,93.9 L656.1,93.9 L658.5,93.9 L661.0,93.9 L663.5,93.9 L666.0,93.9 L668.5,93.9 L671.0,93.9 L673.5,93.9 L676.0,93.9 L678.5,93.9 L681.0,93.9 L683.4,93.9 L685.9,93.9 L688.4,93.9 L690.9,93.9 L693.4,93.9 L695.9,93.9 L698.4,93.9 L700.9,93.9 L703.4,93.9 L705.9,93.9 L708.4,93.9 L710.8,93.9 L713.3,93.9 L715.8,93.9 L718.3,93.9 L720.8,93.9 L723.3,93.9" fill="none" stroke="#f8dfe3" stroke-width="5"/>
<path d="M78.2,488.5 L80.7,488.5 L83.2,488.5 L85.7,488.5 L88.2,488.5 L90.7,488.5 L93.1,488.5 L95.6,488.5 L98.1,488.5 L100.6,488.5 L103.1,488.5 L105.6,488.5 L108.1,488.5 L110.6,488.5 L113.1,488.5 L115.6,488.5 L118.1,488.5 L120.5,488.5 L123.0,488.5 L125.5,488.5 L128.0,488.5 L130.5,488.5 L133.0,488.5 L135.5,488.5 L138.0,488.5 L140.5,488.5 L143.0,488.5 L145.4,488.4 L147.9,488.4 L150.4,488.4 L152.9,488.4 L155.4,488.4 L157.9,488.4 L160.4,488.4 L162.9,488.4 L165.4,488.4 L167.9,488.3 L170.4,488.3 L172.8,488.3 L175.3,488.3 L177.8,488.3 L180.3,488.2 L182.8,488.2 L185.3,488.2 L187.8,488.1 L190.3,488.1 L192.8,488.0 L195.3,488.0 L197.8,487.9 L200.2,487.8 L202.7,487.8 L205.2,487.7 L207.7,487.6 L210.2,487.5 L212.7,487.3 L215.2,487.2 L217.7,487.1 L220.2,486.9 L222.7,486.7 L225.2,486.5 L227.6,486.3 L230.1,486.0 L232.6,485.8 L235.1,485.4 L237.6,485.1 L240.1,484.7 L242.6,484.3 L245.1,483.8 L247.6,483.3 L250.1,482.8 L252.6,482.2 L255.0,481.5 L257.5,480.7 L260.0,479.9 L262.5,479.0 L265.0,477.9 L267.5,476.8 L270.0,475.6 L272.5,474.2 L275.0,472.8 L277.5,471.1 L279.9,469.3 L282.4,467.4 L284.9,465.2 L287.4,462.8 L289.9,460.2 L292.4,457.4 L294.9,454.3 L297.4,450.9 L299.9,447.2 L302.4,443.2 L304.9,438.8 L307.3,434.0 L309.8,428.8 L312.3,423.2 L314.8,417.1 L317.3,410.6 L319.8,403.5 L322.3,395.9 L324.8,387.8 L327.3,379.2 L329.8,369.9 L332.3,360.2 L334.7,349.9 L337.2,339.1 L339.7,327.9 L342.2,316.2 L344.7,304.1 L347.2,291.7 L349.7,279.1 L352.2,266.4 L354.7,253.7 L357.2,241.2 L359.7,228.8 L362.1,216.9 L364.6,205.5 L367.1,194.7 L369.6,184.7 L372.1,175.6 L374.6,167.4 L377.1,160.2 L379.6,154.0 L382.1,148.8 L384.6,144.7 L387.1,141.4 L389.5,138.9 L392.0,137.1 L394.5,135.9 L397.0,135.1 L399.5,134.6 L402.0,134.3 L404.5,134.1 L407.0,134.0 L409.5,134.0 L412.0,134.0 L414.4,134.0 L416.9,134.0 L419.4,134.0 L421.9,134.0 L424.4,134.0 L426.9,134.0 L429.4,134.0 L431.9,134.0 L434.4,134.0 L436.9,134.0 L439.4,134.0 L441.8,134.0 L444.3,134.0 L446.8,134.0 L449.3,134.0 L451.8,134.0 L454.3,134.0 L456.8,134.0 L459.3,134.0 L461.8,134.0 L464.3,134.0 L466.8,134.0 L469.2,134.0 L471.7,134.0 L474.2,134.0 L476.7,134.0 L479.2,134.0 L481.7,134.0 L484.2,134.0 L486.7,134.0 L489.2,134.0 L491.7,134.0 L494.2,134.0 L496.6,134.0 L499.1,134.0 L501.6,134.0 L504.1,134.0 L506.6,134.0 L509.1,134.0 L511.6,134.0 L514.1,134.0 L516.6,134.0 L519.1,134.0 L521.6,134.0 L524.0,134.0 L526.5,134.0 L529.0,134.0 L531.5,134.0 L534.0,134.0 L536.5,134.0 L539.0,134.0 L541.5,134.0 L544.0,134.0 L546.5,134.0 L548.9,134.0 L551.4,134.0 L553.9,134.0 L556.4,134.0 L558.9,134.0 L561.4,134.0 L563.9,134.0 L566.4,134.0 L568.9,134.0 L571.4,134.0 L573.9,134.0 L576.3,134.0 L578.8,134.0 L581.3,134.0 L583.8,134.0 L586.3,134.0 L588.8,134.0 L591.3,134.0 L593.8,134.0 L596.3,134.0 L598.8,134.0 L601.3,134.0 L603.7,134.0 L606.2,134.0 L608.7,134.0 L611.2,134.0 L613.7,134.0 L616.2,134.0 L618.7,134.0 L621.2,134.0 L623.7,134.0 L626.2,134.0 L628.7,134.0 L631.1,134.0 L633.6,134.0 L636.1,134.0 L638.6,134.0 L641.1,134.0 L643.6,134.0 L646.1,134.0 L648.6,134.0 L651.1,134.0 L653.6,134.0 L656.1,134.0 L658.5,134.0 L661.0,134.0 L663.5,134.0 L666.0,134.0 L668.5,134.0 L671.0,134.0 L673.5,134.0 L676.0,134.0 L678.5,134.0 L681.0,134.0 L683.4,134.0 L685.9,134.0 L688.4,134.0 L690.9,134.0 L693.4,134.0 L695.9,134.0 L698.4,134.0 L700.9,134.0 L703.4,134.0 L705.9,134.0 L708.4,134.0 L710.8,134.0 L713.3,134.0 L715.8,134.0 L718.3,134.0 L720.8,134.0 L723.3,134.0" fill="none" stroke="#f8dfe3" stroke-width="5"/>
<path d="M78.2,488.2 L80.7,488.2 L83.2,488.1 L85.7,488.1 L88.2,488.1 L90.7,488.1 L93.1,488.1 L95.6,488.0 L98.1,488.0 L100.6,488.0 L103.1,487.9 L105.6,487.9 L108.1,487.9 L110.6,487.8 L113.1,487.8 L115.6,487.7 L118.1,487.7 L120.5,487.6 L123.0,487.6 L125.5,487.5 L128.0,487.5 L130.5,487.4 L133.0,487.3 L135.5,487.3 L138.0,487.2 L140.5,487.1 L143.0,487.0 L145.4,486.9 L147.9,486.8 L150.4,486.7 L152.9,486.6 L155.4,486.5 L157.9,486.3 L160.4,486.2 L162.9,486.1 L165.4,485.9 L167.9,485.8 L170.4,485.6 L172.8,485.4 L175.3,485.2 L177.8,485.0 L180.3,484.8 L182.8,484.5 L185.3,484.3 L187.8,484.0 L190.3,483.7 L192.8,483.4 L195.3,483.1 L197.8,482.8 L200.2,482.4 L202.7,482.0 L205.2,481.6 L207.7,481.1 L210.2,480.7 L212.7,480.2 L215.2,479.6 L217.7,479.1 L220.2,478.5 L222.7,477.8 L225.2,477.1 L227.6,476.4 L230.1,475.6 L232.6,474.7 L235.1,473.8 L237.6,472.8 L240.1,471.8 L242.6,470.7 L245.1,469.5 L247.6,468.3 L250.1,466.9 L252.6,465.5 L255.0,463.9 L257.5,462.3 L260.0,460.5 L262.5,458.6 L265.0,456.5 L267.5,454.3 L270.0,452.0 L272.5,449.5 L275.0,446.8 L277.5,443.9 L279.9,440.8 L282.4,437.5 L284.9,433.9 L287.4,430.1 L289.9,426.0 L292.4,421.7 L294.9,417.0 L297.4,412.0 L299.9,406.6 L302.4,400.9 L304.9,394.7 L307.3,388.2 L309.8,381.3 L312.3,373.9 L314.8,366.1 L317.3,357.7 L319.8,349.0 L322.3,339.7 L324.8,330.0 L327.3,319.8 L329.8,309.1 L332.3,298.1 L334.7,286.6 L337.2,274.8 L339.7,262.7 L342.2,250.4 L344.7,237.9 L347.2,225.4 L349.7,212.9 L352.2,200.6 L354.7,188.6 L357.2,177.0 L359.7,165.9 L362.1,155.5 L364.6,145.8 L367.1,136.9 L369.6,128.9 L372.1,121.8 L374.6,115.7 L377.1,110.6 L379.6,106.3 L382.1,102.9 L384.6,100.2 L387.1,98.2 L389.5,96.7 L392.0,95.7 L394.5,95.0 L397.0,94.5 L399.5,94.3 L402.0,94.1 L404.5,94.0 L407.0,93.9 L409.5,93.9 L412.0,93.9 L414.4,93.9 L416.9,93.9 L419.4,93.9 L421.9,93.9 L424.4,93.9 L426.9,93.9 L429.4,93.9 L431.9,93.9 L434.4,93.9 L436.9,93.9 L439.4,93.9 L441.8,93.9 L444.3,93.9 L446.8,93.9 L449.3,93.9 L451.8,93.9 L454.3,93.9 L456.8,93.9 L459.3,93.9 L461.8,93.9 L464.3,93.9 L466.8,93.9 L469.2,93.9 L471.7,93.9 L474.2,93.9 L476.7,93.9 L479.2,93.9 L481.7,93.9 L484.2,93.9 L486.7,93.9 L489.2,93.9 L491.7,93.9 L494.2,93.9 L496.6,93.9 L499.1,93.9 L501.6,93.9 L504.1,93.9 L506.6,93.9 L509.1,93.9 L511.6,93.9 L514.1,93.9 L516.6,93.9 L519.1,93.9 L521.6,93.9 L524.0,93.9 L526.5,93.9 L529.0,93.9 L531.5,93.9 L534.0,93.9 L536.5,93.9 L539.0,93.9 L541.5,93.9 L544.0,93.9 L546.5,93.9 L548.9,93.9 L551.4,93.9 L553.9,93.9 L556.4,93.9 L558.9,93.9 L561.4,93.9 L563.9,93.9 L566.4,93.9 L568.9,93.9 L571.4,93.9 L573.9,93.9 L576.3,93.9 L578.8,93.9 L581.3,93.9 L583.8,93.9 L586.3,93.9 L588.8,93.9 L591.3,93.9 L593.8,93.9 L596.3,93.9 L598.8,93.9 L601.3,93.9 L603.7,93.9 L606.2,93.9 L608.7,93.9 L611.2,93.9 L613.7,93.9 L616.2,93.9 L618.7,93.9 L621.2,93.9 L623.7,93.9 L626.2,93.9 L628.7,93.9 L631.1,93.9 L633.6,93.9 L636.1,93.9 L638.6,93.9 L641.1,93.9 L643.6,93.9 L646.1,93.9 L648.6,93.9 L651.1,93.9 L653.6,93.9 L656.1,93.9 L658.5,93.9 L661.0,93.9 L663.5,93.9 L666.0,93.9 L668.5,93.9 L671.0,93.9 L673.5,93.9 L676.0,93.9 L678.5,93.9 L681.0,93.9 L683.4,93.9 L685.9,93.9 L688.4,93.9 L690.9,93.9 L693.4,93.9 L695.9,93.9 L698.4,93.9 L700.9,93.9 L703.4,93.9 L705.9,93.9 L708.4,93.9 L710.8,93.9 L713.3,93.9 L715.8,93.9 L718.3,93.9 L720.8,93.9 L723.3,93.9" fill="none" stroke="#f4dede" stroke-width="8"/>
<path d="M78.2,447.9 L80.7,447.9 L83.2,447.8 L85.7,447.8 L88.2,447.7 L90.7,447.7 L93.1,447.6 L95.6,447.6 L98.1,447.5 L100.6,447.5 L103.1,447.4 L105.6,447.4 L108.1,447.3 L110.6,447.2 L113.1,447.2 L115.6,447.1 L118.1,447.0 L120.5,446.9 L123.0,446.8 L125.5,446.7 L128.0,446.6 L130.5,446.5 L133.0,446.4 L135.5,446.2 L138.0,446.1 L140.5,446.0 L143.0,445.8 L145.4,445.6 L147.9,445.5 L150.4,445.3 L152.9,445.1 L155.4,444.9 L157.9,444.7 L160.4,444.4 L162.9,444.2 L165.4,443.9 L167.9,443.7 L170.4,443.4 L172.8,443.1 L175.3,442.7 L177.8,442.4 L180.3,442.0 L182.8,441.6 L185.3,441.2 L187.8,440.8 L190.3,440.3 L192.8,439.8 L195.3,439.3 L197.8,438.7 L200.2,438.1 L202.7,437.5 L205.2,436.9 L207.7,436.2 L210.2,435.4 L212.7,434.6 L215.2,433.8 L217.7,432.9 L220.2,432.0 L222.7,431.0 L225.2,430.0 L227.6,428.8 L230.1,427.7 L232.6,426.4 L235.1,425.1 L237.6,423.7 L240.1,422.2 L242.6,420.7 L245.1,419.0 L247.6,417.2 L250.1,415.4 L252.6,413.4 L255.0,411.3 L257.5,409.1 L260.0,406.7 L262.5,404.2 L265.0,401.6 L267.5,398.7 L270.0,395.8 L272.5,392.6 L275.0,389.2 L277.5,385.7 L279.9,381.9 L282.4,377.9 L284.9,373.7 L287.4,369.2 L289.9,364.5 L292.4,359.4 L294.9,354.1 L297.4,348.5 L299.9,342.6 L302.4,336.3 L304.9,329.7 L307.3,322.8 L309.8,315.5 L312.3,307.8 L314.8,299.8 L317.3,291.4 L319.8,282.7 L322.3,273.7 L324.8,264.3 L327.3,254.6 L329.8,244.7 L332.3,234.5 L334.7,224.2 L337.2,213.8 L339.7,203.3 L342.2,192.9 L344.7,182.5 L347.2,172.4 L349.7,162.6 L352.2,153.2 L354.7,144.3 L357.2,136.0 L359.7,128.4 L362.1,121.6 L364.6,115.6 L367.1,110.4 L369.6,106.0 L372.1,102.5 L374.6,99.7 L377.1,97.7 L379.6,96.2 L382.1,95.2 L384.6,94.6 L387.1,94.3 L389.5,94.1 L392.0,94.0 L394.5,93.9 L397.0,93.9 L399.5,93.9 L402.0,93.9 L404.5,93.9 L407.0,93.9 L409.5,93.9 L412.0,93.9 L414.4,93.9 L416.9,93.9 L419.4,93.9 L421.9,93.9 L424.4,93.9 L426.9,93.9 L429.4,93.9 L431.9,93.9 L434.4,93.9 L436.9,93.9 L439.4,93.9 L441.8,93.9 L444.3,93.9 L446.8,93.9 L449.3,93.9 L451.8,93.9 L454.3,93.9 L456.8,93.9 L459.3,93.9 L461.8,93.9 L464.3,93.9 L466.8,93.9 L469.2,93.9 L471.7,93.9 L474.2,93.9 L476.7,93.9 L479.2,93.9 L481.7,93.9 L484.2,93.9 L486.7,93.9 L489.2,93.9 L491.7,93.9 L494.2,93.9 L496.6,93.9 L499.1,93.9 L501.6,93.9 L504.1,93.9 L506.6,93.9 L509.1,93.9 L511.6,93.9 L514.1,93.9 L516.6,93.9 L519.1,93.9 L521.6,93.9 L524.0,93.9 L526.5,93.9 L529.0,93.9 L531.5,93.9 L534.0,93.9 L536.5,93.9 L539.0,93.9 L541.5,93.9 L544.0,93.9 L546.5,93.9 L548.9,93.9 L551.4,93.9 L553.9,93.9 L556.4,93.9 L558.9,93.9 L561.4,93.9 L563.9,93.9 L566.4,93.9 L568.9,93.9 L571.4,93.9 L573.9,93.9 L576.3,93.9 L578.8,93.9 L581.3,93.9 L583.8,93.9 L586.3,93.9 L588.8,93.9 L591.3,93.9 L593.8,93.9 L596.3,93.9 L598.8,93.9 L601.3,93.9 L603.7,93.9 L606.2,93.9 L608.7,93.9 L611.2,93.9 L613.7,93.9 L616.2,93.9 L618.7,93.9 L621.2,93.9 L623.7,93.9 L626.2,93.9 L628.7,93.9 L631.1,93.9 L633.6,93.9 L636.1,93.9 L638.6,93.9 L641.1,93.9 L643.6,93.9 L646.1,93.9 L648.6,93.9 L651.1,93.9 L653.6,93.9 L656.1,93.9 L658.5,93.9 L661.0,93.9 L663.5,93.9 L666.0,93.9 L668.5,93.9 L671.0,93.9 L673.5,93.9 L676.0,93.9 L678.5,93.9 L681.0,93.9 L683.4,93.9 L685.9,93.9 L688.4,93.9 L690.9,93.9 L693.4,93.9 L695.9,93.9 L698.4,93.9 L700.9,93.9 L703.4,93.9 L705.9,93.9 L708.4,93.9 L710.8,93.9 L713.3,93.9 L715.8,93.9 L718.3,93.9 L720.8,93.9 L723.3,93.9" fill="none" stroke="#650a19" stroke-width="2.7" stroke-dasharray="9 4.7"/>
<path d="M78.2,488.5 L80.7,488.5 L83.2,488.5 L85.7,488.5 L88.2,488.5 L90.7,488.5 L93.1,488.5 L95.6,488.5 L98.1,488.5 L100.6,488.5 L103.1,488.5 L105.6,488.5 L108.1,488.5 L110.6,488.5 L113.1,488.5 L115.6,488.5 L118.1,488.5 L120.5,488.5 L123.0,488.5 L125.5,488.5 L128.0,488.5 L130.5,488.5 L133.0,488.5 L135.5,488.5 L138.0,488.5 L140.5,488.5 L143.0,488.5 L145.4,488.4 L147.9,488.4 L150.4,488.4 L152.9,488.4 L155.4,488.4 L157.9,488.4 L160.4,488.4 L162.9,488.4 L165.4,488.4 L167.9,488.3 L170.4,488.3 L172.8,488.3 L175.3,488.3 L177.8,488.3 L180.3,488.2 L182.8,488.2 L185.3,488.2 L187.8,488.1 L190.3,488.1 L192.8,488.0 L195.3,488.0 L197.8,487.9 L200.2,487.8 L202.7,487.8 L205.2,487.7 L207.7,487.6 L210.2,487.5 L212.7,487.3 L215.2,487.2 L217.7,487.1 L220.2,486.9 L222.7,486.7 L225.2,486.5 L227.6,486.3 L230.1,486.0 L232.6,485.8 L235.1,485.4 L237.6,485.1 L240.1,484.7 L242.6,484.3 L245.1,483.8 L247.6,483.3 L250.1,482.8 L252.6,482.2 L255.0,481.5 L257.5,480.7 L260.0,479.9 L262.5,479.0 L265.0,477.9 L267.5,476.8 L270.0,475.6 L272.5,474.2 L275.0,472.8 L277.5,471.1 L279.9,469.3 L282.4,467.4 L284.9,465.2 L287.4,462.8 L289.9,460.2 L292.4,457.4 L294.9,454.3 L297.4,450.9 L299.9,447.2 L302.4,443.2 L304.9,438.8 L307.3,434.0 L309.8,428.8 L312.3,423.2 L314.8,417.1 L317.3,410.6 L319.8,403.5 L322.3,395.9 L324.8,387.8 L327.3,379.2 L329.8,369.9 L332.3,360.2 L334.7,349.9 L337.2,339.1 L339.7,327.9 L342.2,316.2 L344.7,304.1 L347.2,291.7 L349.7,279.1 L352.2,266.4 L354.7,253.7 L357.2,241.2 L359.7,228.8 L362.1,216.9 L364.6,205.5 L367.1,194.7 L369.6,184.7 L372.1,175.6 L374.6,167.4 L377.1,160.2 L379.6,154.0 L382.1,148.8 L384.6,144.7 L387.1,141.4 L389.5,138.9 L392.0,137.1 L394.5,135.9 L397.0,135.1 L399.5,134.6 L402.0,134.3 L404.5,134.1 L407.0,134.0 L409.5,134.0 L412.0,134.0 L414.4,134.0 L416.9,134.0 L419.4,134.0 L421.9,134.0 L424.4,134.0 L426.9,134.0 L429.4,134.0 L431.9,134.0 L434.4,134.0 L436.9,134.0 L439.4,134.0 L441.8,134.0 L444.3,134.0 L446.8,134.0 L449.3,134.0 L451.8,134.0 L454.3,134.0 L456.8,134.0 L459.3,134.0 L461.8,134.0 L464.3,134.0 L466.8,134.0 L469.2,134.0 L471.7,134.0 L474.2,134.0 L476.7,134.0 L479.2,134.0 L481.7,134.0 L484.2,134.0 L486.7,134.0 L489.2,134.0 L491.7,134.0 L494.2,134.0 L496.6,134.0 L499.1,134.0 L501.6,134.0 L504.1,134.0 L506.6,134.0 L509.1,134.0 L511.6,134.0 L514.1,134.0 L516.6,134.0 L519.1,134.0 L521.6,134.0 L524.0,134.0 L526.5,134.0 L529.0,134.0 L531.5,134.0 L534.0,134.0 L536.5,134.0 L539.0,134.0 L541.5,134.0 L544.0,134.0 L546.5,134.0 L548.9,134.0 L551.4,134.0 L553.9,134.0 L556.4,134.0 L558.9,134.0 L561.4,134.0 L563.9,134.0 L566.4,134.0 L568.9,134.0 L571.4,134.0 L573.9,134.0 L576.3,134.0 L578.8,134.0 L581.3,134.0 L583.8,134.0 L586.3,134.0 L588.8,134.0 L591.3,134.0 L593.8,134.0 L596.3,134.0 L598.8,134.0 L601.3,134.0 L603.7,134.0 L606.2,134.0 L608.7,134.0 L611.2,134.0 L613.7,134.0 L616.2,134.0 L618.7,134.0 L621.2,134.0 L623.7,134.0 L626.2,134.0 L628.7,134.0 L631.1,134.0 L633.6,134.0 L636.1,134.0 L638.6,134.0 L641.1,134.0 L643.6,134.0 L646.1,134.0 L648.6,134.0 L651.1,134.0 L653.6,134.0 L656.1,134.0 L658.5,134.0 L661.0,134.0 L663.5,134.0 L666.0,134.0 L668.5,134.0 L671.0,134.0 L673.5,134.0 L676.0,134.0 L678.5,134.0 L681.0,134.0 L683.4,134.0 L685.9,134.0 L688.4,134.0 L690.9,134.0 L693.4,134.0 L695.9,134.0 L698.4,134.0 L700.9,134.0 L703.4,134.0 L705.9,134.0 L708.4,134.0 L710.8,134.0 L713.3,134.0 L715.8,134.0 L718.3,134.0 L720.8,134.0 L723.3,134.0" fill="none" stroke="#650a19" stroke-width="2.7" stroke-dasharray="9 4.7"/>
<path d="M78.2,488.2 L80.7,488.2 L83.2,488.1 L85.7,488.1 L88.2,488.1 L90.7,488.1 L93.1,488.1 L95.6,488.0 L98.1,488.0 L100.6,488.0 L103.1,487.9 L105.6,487.9 L108.1,487.9 L110.6,487.8 L113.1,487.8 L115.6,487.7 L118.1,487.7 L120.5,487.6 L123.0,487.6 L125.5,487.5 L128.0,487.5 L130.5,487.4 L133.0,487.3 L135.5,487.3 L138.0,487.2 L140.5,487.1 L143.0,487.0 L145.4,486.9 L147.9,486.8 L150.4,486.7 L152.9,486.6 L155.4,486.5 L157.9,486.3 L160.4,486.2 L162.9,486.1 L165.4,485.9 L167.9,485.8 L170.4,485.6 L172.8,485.4 L175.3,485.2 L177.8,485.0 L180.3,484.8 L182.8,484.5 L185.3,484.3 L187.8,484.0 L190.3,483.7 L192.8,483.4 L195.3,483.1 L197.8,482.8 L200.2,482.4 L202.7,482.0 L205.2,481.6 L207.7,481.1 L210.2,480.7 L212.7,480.2 L215.2,479.6 L217.7,479.1 L220.2,478.5 L222.7,477.8 L225.2,477.1 L227.6,476.4 L230.1,475.6 L232.6,474.7 L235.1,473.8 L237.6,472.8 L240.1,471.8 L242.6,470.7 L245.1,469.5 L247.6,468.3 L250.1,466.9 L252.6,465.5 L255.0,463.9 L257.5,462.3 L260.0,460.5 L262.5,458.6 L265.0,456.5 L267.5,454.3 L270.0,452.0 L272.5,449.5 L275.0,446.8 L277.5,443.9 L279.9,440.8 L282.4,437.5 L284.9,433.9 L287.4,430.1 L289.9,426.0 L292.4,421.7 L294.9,417.0 L297.4,412.0 L299.9,406.6 L302.4,400.9 L304.9,394.7 L307.3,388.2 L309.8,381.3 L312.3,373.9 L314.8,366.1 L317.3,357.7 L319.8,349.0 L322.3,339.7 L324.8,330.0 L327.3,319.8 L329.8,309.1 L332.3,298.1 L334.7,286.6 L337.2,274.8 L339.7,262.7 L342.2,250.4 L344.7,237.9 L347.2,225.4 L349.7,212.9 L352.2,200.6 L354.7,188.6 L357.2,177.0 L359.7,165.9 L362.1,155.5 L364.6,145.8 L367.1,136.9 L369.6,128.9 L372.1,121.8 L374.6,115.7 L377.1,110.6 L379.6,106.3 L382.1,102.9 L384.6,100.2 L387.1,98.2 L389.5,96.7 L392.0,95.7 L394.5,95.0 L397.0,94.5 L399.5,94.3 L402.0,94.1 L404.5,94.0 L407.0,93.9 L409.5,93.9 L412.0,93.9 L414.4,93.9 L416.9,93.9 L419.4,93.9 L421.9,93.9 L424.4,93.9 L426.9,93.9 L429.4,93.9 L431.9,93.9 L434.4,93.9 L436.9,93.9 L439.4,93.9 L441.8,93.9 L444.3,93.9 L446.8,93.9 L449.3,93.9 L451.8,93.9 L454.3,93.9 L456.8,93.9 L459.3,93.9 L461.8,93.9 L464.3,93.9 L466.8,93.9 L469.2,93.9 L471.7,93.9 L474.2,93.9 L476.7,93.9 L479.2,93.9 L481.7,93.9 L484.2,93.9 L486.7,93.9 L489.2,93.9 L491.7,93.9 L494.2,93.9 L496.6,93.9 L499.1,93.9 L501.6,93.9 L504.1,93.9 L506.6,93.9 L509.1,93.9 L511.6,93.9 L514.1,93.9 L516.6,93.9 L519.1,93.9 L521.6,93.9 L524.0,93.9 L526.5,93.9 L529.0,93.9 L531.5,93.9 L534.0,93.9 L536.5,93.9 L539.0,93.9 L541.5,93.9 L544.0,93.9 L546.5,93.9 L548.9,93.9 L551.4,93.9 L553.9,93.9 L556.4,93.9 L558.9,93.9 L561.4,93.9 L563.9,93.9 L566.4,93.9 L568.9,93.9 L571.4,93.9 L573.9,93.9 L576.3,93.9 L578.8,93.9 L581.3,93.9 L583.8,93.9 L586.3,93.9 L588.8,93.9 L591.3,93.9 L593.8,93.9 L596.3,93.9 L598.8,93.9 L601.3,93.9 L603.7,93.9 L606.2,93.9 L608.7,93.9 L611.2,93.9 L613.7,93.9 L616.2,93.9 L618.7,93.9 L621.2,93.9 L623.7,93.9 L626.2,93.9 L628.7,93.9 L631.1,93.9 L633.6,93.9 L636.1,93.9 L638.6,93.9 L641.1,93.9 L643.6,93.9 L646.1,93.9 L648.6,93.9 L651.1,93.9 L653.6,93.9 L656.1,93.9 L658.5,93.9 L661.0,93.9 L663.5,93.9 L666.0,93.9 L668.5,93.9 L671.0,93.9 L673.5,93.9 L676.0,93.9 L678.5,93.9 L681.0,93.9 L683.4,93.9 L685.9,93.9 L688.4,93.9 L690.9,93.9 L693.4,93.9 L695.9,93.9 L698.4,93.9 L700.9,93.9 L703.4,93.9 L705.9,93.9 L708.4,93.9 L710.8,93.9 L713.3,93.9 L715.8,93.9 L718.3,93.9 L720.8,93.9 L723.3,93.9" fill="none" stroke="#960003" stroke-width="6"/>
<circle cx="173.5" cy="476.1" r="5.8"/>
<circle cx="202.0" cy="464.7" r="5.8"/>
<circle cx="202.0" cy="476.4" r="5.8"/>
<circle cx="218.7" cy="453.1" r="5.8"/>
<circle cx="218.7" cy="465.0" r="5.8"/>
<circle cx="218.7" cy="476.9" r="5.8"/>
<circle cx="230.5" cy="441.5" r="5.8"/>
<circle cx="230.5" cy="453.1" r="5.8"/>
<circle cx="231.3" cy="465.0" r="5.8"/>
<circle cx="239.3" cy="430.1" r="5.8"/>
<circle cx="240.8" cy="442.0" r="5.8"/>
<circle cx="239.3" cy="453.1" r="5.8"/>
<circle cx="247.2" cy="418.7" r="5.8"/>
<circle cx="248.0" cy="442.0" r="5.8"/>
<circle cx="253.5" cy="407.1" r="5.8"/>
<circle cx="259.0" cy="407.1" r="5.8"/>
<circle cx="253.5" cy="419.0" r="5.8"/>
<circle cx="253.5" cy="430.1" r="5.8"/>
<circle cx="259.0" cy="430.1" r="5.8"/>
<circle cx="253.5" cy="453.1" r="5.8"/>
<circle cx="254.3" cy="465.0" r="5.8"/>
<circle cx="263.8" cy="441.5" r="5.8"/>
<circle cx="268.6" cy="418.7" r="5.8"/>
<circle cx="265.4" cy="453.1" r="5.8"/>
<circle cx="272.6" cy="453.9" r="5.8"/>
<circle cx="289.8" cy="302.9" r="5.8"/>
<circle cx="298.5" cy="302.9" r="5.8"/>
<circle cx="305.3" cy="302.9" r="5.8"/>
<circle cx="290.7" cy="314.5" r="5.8"/>
<circle cx="287.8" cy="325.2" r="5.8"/>
<circle cx="282.0" cy="336.8" r="5.8"/>
<circle cx="292.7" cy="336.8" r="5.8"/>
<circle cx="279.1" cy="348.4" r="5.8"/>
<circle cx="284.0" cy="349.4" r="5.8"/>
<circle cx="271.4" cy="360.1" r="5.8"/>
<circle cx="276.2" cy="360.5" r="5.8"/>
<circle cx="268.4" cy="372.1" r="5.8"/>
<circle cx="273.3" cy="372.1" r="5.8"/>
<circle cx="304.3" cy="372.1" r="5.8"/>
<circle cx="279.1" cy="383.7" r="5.8"/>
<circle cx="258.8" cy="395.0" r="5.8"/>
<circle cx="268.4" cy="395.3" r="5.8"/>
<circle cx="253.9" cy="405.6" r="5.8"/>
<circle cx="261.7" cy="405.6" r="5.8"/>
<circle cx="360.7" cy="360.4" r="5.8"/>
<circle cx="332.2" cy="395.2" r="5.8"/>
<circle cx="324.6" cy="407.0" r="5.8"/>
<circle cx="305.5" cy="418.3" r="5.8"/>
<circle cx="304.2" cy="441.3" r="5.8"/>
<circle cx="338.2" cy="209.7" r="5.8"/>
<circle cx="309.4" cy="221.2" r="5.8"/>
<circle cx="326.1" cy="221.2" r="5.8"/>
<circle cx="309.4" cy="233.3" r="5.8"/>
<circle cx="323.8" cy="244.8" r="5.8"/>
<circle cx="342.8" cy="256.2" r="5.8"/>
<circle cx="299.3" cy="279.1" r="5.8"/>
<circle cx="311.2" cy="279.1" r="5.8"/>
<circle cx="302.0" cy="291.0" r="5.8"/>
<circle cx="361.0" cy="128.4" r="5.8"/>
<circle cx="341.3" cy="140.0" r="5.8"/>
<circle cx="324.8" cy="163.6" r="5.8"/>
<circle cx="340.3" cy="163.6" r="5.8"/>
<circle cx="354.8" cy="163.6" r="5.8"/>
<circle cx="407.5" cy="152.0" r="5.8"/>
<circle cx="414.7" cy="105.7" r="5.8"/>
<circle cx="454.5" cy="105.7" r="5.8"/>
<circle cx="413.7" cy="93.7" r="5.8"/>
<circle cx="418.0" cy="93.7" r="5.8"/>
<circle cx="422.0" cy="93.7" r="5.8"/>
<circle cx="425.6" cy="93.7" r="5.8"/>
<circle cx="460.1" cy="93.7" r="5.8"/>
<circle cx="484.8" cy="93.8" r="5.8"/>
<circle cx="514.0" cy="93.8" r="5.8"/>
<circle cx="535.7" cy="93.8" r="5.8"/>
<circle cx="540.9" cy="93.8" r="5.8"/>
<circle cx="547.3" cy="93.8" r="5.8"/>
<circle cx="562.9" cy="93.8" r="5.8"/>
<circle cx="576.9" cy="93.8" r="5.8"/>
<circle cx="599.5" cy="93.8" r="5.8"/>
<circle cx="605.0" cy="93.8" r="5.8"/>
<circle cx="611.0" cy="93.8" r="5.8"/>
<circle cx="618.5" cy="93.8" r="5.8"/>
<circle cx="639.6" cy="93.8" r="5.8"/>
<circle cx="665.3" cy="93.8" r="5.8"/>
</g>
<rect x="78.2" y="74.5" width="645.1" height="433.4" fill="none" stroke="#2a2a2a" stroke-width="1.7"/>
<path d="M73.2,488.5 H78.2 M73.2,409.6 H78.2 M73.2,330.7 H78.2 M73.2,251.7 H78.2 M73.2,172.8 H78.2 M73.2,93.9 H78.2 M85.4,507.9 V510.7 M102.2,507.9 V510.7 M114.1,507.9 V510.7 M123.3,507.9 V510.7 M130.9,507.9 V510.7 M137.3,507.9 V510.7 M142.8,507.9 V510.7 M147.6,507.9 V510.7 M152.0,507.9 V512.4 M180.7,507.9 V510.7 M197.4,507.9 V510.7 M209.3,507.9 V510.7 M218.6,507.9 V510.7 M226.1,507.9 V510.7 M232.5,507.9 V510.7 M238.0,507.9 V510.7 M242.9,507.9 V510.7 M247.2,507.9 V512.4 M275.9,507.9 V510.7 M292.7,507.9 V510.7 M304.5,507.9 V510.7 M313.8,507.9 V510.7 M321.3,507.9 V510.7 M327.7,507.9 V510.7 M333.2,507.9 V510.7 M338.1,507.9 V510.7 M342.4,507.9 V512.4 M371.1,507.9 V510.7 M387.9,507.9 V510.7 M399.8,507.9 V510.7 M409.0,507.9 V510.7 M416.5,507.9 V510.7 M422.9,507.9 V510.7 M428.4,507.9 V510.7 M433.3,507.9 V510.7 M437.7,507.9 V512.4 M466.3,507.9 V510.7 M483.1,507.9 V510.7 M495.0,507.9 V510.7 M504.2,507.9 V510.7 M511.8,507.9 V510.7 M518.1,507.9 V510.7 M523.7,507.9 V510.7 M528.5,507.9 V510.7 M532.9,507.9 V512.4 M561.5,507.9 V510.7 M578.3,507.9 V510.7 M590.2,507.9 V510.7 M599.4,507.9 V510.7 M607.0,507.9 V510.7 M613.4,507.9 V510.7 M618.9,507.9 V510.7 M623.7,507.9 V510.7 M628.1,507.9 V512.4 M656.8,507.9 V510.7 M673.5,507.9 V510.7 M685.4,507.9 V510.7 M694.7,507.9 V510.7 M702.2,507.9 V510.7 M708.6,507.9 V510.7 M714.1,507.9 V510.7 M719.0,507.9 V510.7 M723.3,507.9 V512.4" stroke="#2a2a2a" stroke-width="1.7" fill="none"/>
<clipPath id="clipB"><rect x="835.8" y="77.1" width="645.2" height="433.79999999999995"/></clipPath>
<g clip-path="url(#clipB)">
<clipPath id="bandB"><path d="M835.8,448.7 L838.3,448.6 L840.8,448.6 L843.3,448.6 L845.8,448.6 L848.3,448.6 L850.7,448.6 L853.2,448.6 L855.7,448.5 L858.2,448.5 L860.7,448.5 L863.2,448.5 L865.7,448.5 L868.2,448.5 L870.7,448.4 L873.2,448.4 L875.7,448.4 L878.1,448.4 L880.6,448.3 L883.1,448.3 L885.6,448.3 L888.1,448.2 L890.6,448.2 L893.1,448.2 L895.6,448.1 L898.1,448.1 L900.6,448.0 L903.1,448.0 L905.6,447.9 L908.0,447.9 L910.5,447.8 L913.0,447.8 L915.5,447.7 L918.0,447.6 L920.5,447.6 L923.0,447.5 L925.5,447.4 L928.0,447.3 L930.5,447.2 L933.0,447.1 L935.4,447.0 L937.9,446.9 L940.4,446.8 L942.9,446.7 L945.4,446.5 L947.9,446.4 L950.4,446.2 L952.9,446.1 L955.4,445.9 L957.9,445.7 L960.4,445.6 L962.8,445.4 L965.3,445.1 L967.8,444.9 L970.3,444.7 L972.8,444.4 L975.3,444.2 L977.8,443.9 L980.3,443.6 L982.8,443.3 L985.3,443.0 L987.8,442.6 L990.2,442.2 L992.7,441.9 L995.2,441.4 L997.7,441.0 L1000.2,440.6 L1002.7,440.1 L1005.2,439.6 L1007.7,439.0 L1010.2,438.4 L1012.7,437.8 L1015.2,437.2 L1017.7,436.5 L1020.1,435.8 L1022.6,435.1 L1025.1,434.3 L1027.6,433.4 L1030.1,432.6 L1032.6,431.6 L1035.1,430.7 L1037.6,429.6 L1040.1,428.6 L1042.6,427.4 L1045.1,426.2 L1047.5,425.0 L1050.0,423.7 L1052.5,422.3 L1055.0,420.8 L1057.5,419.3 L1060.0,417.7 L1062.5,416.0 L1065.0,414.2 L1067.5,412.3 L1070.0,410.4 L1072.5,408.3 L1074.9,406.1 L1077.4,403.9 L1079.9,401.5 L1082.4,399.0 L1084.9,396.4 L1087.4,393.7 L1089.9,390.8 L1092.4,387.8 L1094.9,384.7 L1097.4,381.4 L1099.9,378.0 L1102.3,374.5 L1104.8,370.7 L1107.3,366.8 L1109.8,362.8 L1112.3,358.6 L1114.8,354.2 L1117.3,349.6 L1119.8,344.8 L1122.3,339.8 L1124.8,334.7 L1127.3,329.4 L1129.8,323.8 L1132.2,318.1 L1134.7,312.1 L1137.2,306.0 L1139.7,299.7 L1142.2,293.2 L1144.7,286.5 L1147.2,279.6 L1149.7,272.5 L1152.2,265.3 L1154.7,257.9 L1157.2,250.4 L1159.6,242.8 L1162.1,235.0 L1164.6,227.2 L1167.1,219.3 L1169.6,211.4 L1172.1,203.5 L1174.6,195.6 L1177.1,187.8 L1179.6,180.1 L1182.1,172.5 L1184.6,165.2 L1187.0,158.0 L1189.5,151.1 L1192.0,144.6 L1194.5,138.3 L1197.0,132.5 L1199.5,127.1 L1202.0,122.1 L1204.5,117.7 L1207.0,113.6 L1209.5,110.1 L1212.0,107.1 L1214.5,104.6 L1216.9,102.5 L1219.4,100.8 L1221.9,99.5 L1224.4,98.5 L1226.9,97.8 L1229.4,97.3 L1231.9,97.0 L1234.4,96.8 L1236.9,96.7 L1239.4,96.7 L1241.9,96.6 L1244.3,96.6 L1246.8,96.6 L1249.3,96.6 L1251.8,96.6 L1254.3,96.6 L1256.8,96.6 L1259.3,96.6 L1261.8,96.6 L1264.3,96.6 L1266.8,96.6 L1269.3,96.6 L1271.7,96.6 L1274.2,96.6 L1276.7,96.6 L1279.2,96.6 L1281.7,96.6 L1284.2,96.6 L1286.7,96.6 L1289.2,96.6 L1291.7,96.6 L1294.2,96.6 L1296.7,96.6 L1299.1,96.6 L1301.6,96.6 L1304.1,96.6 L1306.6,96.6 L1309.1,96.6 L1311.6,96.6 L1314.1,96.6 L1316.6,96.6 L1319.1,96.6 L1321.6,96.6 L1324.1,96.6 L1326.6,96.6 L1329.0,96.6 L1331.5,96.6 L1334.0,96.6 L1336.5,96.6 L1339.0,96.6 L1341.5,96.6 L1344.0,96.6 L1346.5,96.6 L1349.0,96.6 L1351.5,96.6 L1354.0,96.6 L1356.4,96.6 L1358.9,96.6 L1361.4,96.6 L1363.9,96.6 L1366.4,96.6 L1368.9,96.6 L1371.4,96.6 L1373.9,96.6 L1376.4,96.6 L1378.9,96.6 L1381.4,96.6 L1383.8,96.6 L1386.3,96.6 L1388.8,96.6 L1391.3,96.6 L1393.8,96.6 L1396.3,96.6 L1398.8,96.6 L1401.3,96.6 L1403.8,96.6 L1406.3,96.6 L1408.8,96.6 L1411.2,96.6 L1413.7,96.6 L1416.2,96.6 L1418.7,96.6 L1421.2,96.6 L1423.7,96.6 L1426.2,96.6 L1428.7,96.6 L1431.2,96.6 L1433.7,96.6 L1436.2,96.6 L1438.7,96.6 L1441.1,96.6 L1443.6,96.6 L1446.1,96.6 L1448.6,96.6 L1451.1,96.6 L1453.6,96.6 L1456.1,96.6 L1458.6,96.6 L1461.1,96.6 L1463.6,96.6 L1466.1,96.6 L1468.5,96.6 L1471.0,96.6 L1473.5,96.6 L1476.0,96.6 L1478.5,96.6 L1481.0,96.6 L1481.0,138.9 L1478.5,138.9 L1476.0,138.9 L1473.5,138.9 L1471.0,138.9 L1468.5,138.9 L1466.1,138.9 L1463.6,138.9 L1461.1,138.9 L1458.6,138.9 L1456.1,138.9 L1453.6,138.9 L1451.1,138.9 L1448.6,138.9 L1446.1,138.9 L1443.6,138.9 L1441.1,138.9 L1438.7,138.9 L1436.2,138.9 L1433.7,138.9 L1431.2,138.9 L1428.7,138.9 L1426.2,138.9 L1423.7,138.9 L1421.2,138.9 L1418.7,138.9 L1416.2,138.9 L1413.7,138.9 L1411.2,138.9 L1408.8,138.9 L1406.3,138.9 L1403.8,138.9 L1401.3,138.9 L1398.8,138.9 L1396.3,138.9 L1393.8,138.9 L1391.3,138.9 L1388.8,138.9 L1386.3,138.9 L1383.8,138.9 L1381.4,138.9 L1378.9,138.9 L1376.4,138.9 L1373.9,138.9 L1371.4,138.9 L1368.9,138.9 L1366.4,138.9 L1363.9,138.9 L1361.4,138.9 L1358.9,138.9 L1356.4,138.9 L1354.0,138.9 L1351.5,138.9 L1349.0,138.9 L1346.5,138.9 L1344.0,138.9 L1341.5,138.9 L1339.0,138.9 L1336.5,138.9 L1334.0,138.9 L1331.5,138.9 L1329.0,138.9 L1326.6,138.9 L1324.1,138.9 L1321.6,138.9 L1319.1,138.9 L1316.6,138.9 L1314.1,138.9 L1311.6,138.9 L1309.1,138.9 L1306.6,138.9 L1304.1,138.9 L1301.6,138.9 L1299.1,138.9 L1296.7,138.9 L1294.2,138.9 L1291.7,138.9 L1289.2,138.9 L1286.7,138.9 L1284.2,138.9 L1281.7,138.9 L1279.2,138.9 L1276.7,138.9 L1274.2,138.9 L1271.7,138.9 L1269.3,138.9 L1266.8,138.9 L1264.3,138.9 L1261.8,138.9 L1259.3,138.9 L1256.8,139.0 L1254.3,139.0 L1251.8,139.2 L1249.3,139.4 L1246.8,139.7 L1244.3,140.2 L1241.9,140.9 L1239.4,141.9 L1236.9,143.2 L1234.4,145.0 L1231.9,147.3 L1229.4,150.1 L1226.9,153.5 L1224.4,157.4 L1221.9,162.0 L1219.4,167.3 L1216.9,173.1 L1214.5,179.5 L1212.0,186.5 L1209.5,194.0 L1207.0,201.9 L1204.5,210.3 L1202.0,219.0 L1199.5,228.0 L1197.0,237.3 L1194.5,246.7 L1192.0,256.3 L1189.5,266.0 L1187.0,275.6 L1184.6,285.2 L1182.1,294.8 L1179.6,304.2 L1177.1,313.4 L1174.6,322.5 L1172.1,331.3 L1169.6,339.9 L1167.1,348.3 L1164.6,356.3 L1162.1,364.1 L1159.6,371.6 L1157.2,378.7 L1154.7,385.6 L1152.2,392.2 L1149.7,398.4 L1147.2,404.4 L1144.7,410.0 L1142.2,415.4 L1139.7,420.4 L1137.2,425.2 L1134.7,429.7 L1132.2,434.0 L1129.8,438.0 L1127.3,441.8 L1124.8,445.3 L1122.3,448.7 L1119.8,451.8 L1117.3,454.7 L1114.8,457.4 L1112.3,460.0 L1109.8,462.4 L1107.3,464.6 L1104.8,466.6 L1102.3,468.6 L1099.9,470.3 L1097.4,472.0 L1094.9,473.6 L1092.4,475.0 L1089.9,476.3 L1087.4,477.5 L1084.9,478.7 L1082.4,479.7 L1079.9,480.7 L1077.4,481.6 L1074.9,482.4 L1072.5,483.2 L1070.0,483.9 L1067.5,484.5 L1065.0,485.1 L1062.5,485.6 L1060.0,486.1 L1057.5,486.6 L1055.0,487.0 L1052.5,487.4 L1050.0,487.7 L1047.5,488.0 L1045.1,488.3 L1042.6,488.6 L1040.1,488.8 L1037.6,489.0 L1035.1,489.2 L1032.6,489.4 L1030.1,489.6 L1027.6,489.7 L1025.1,489.9 L1022.6,490.0 L1020.1,490.1 L1017.7,490.2 L1015.2,490.3 L1012.7,490.4 L1010.2,490.5 L1007.7,490.5 L1005.2,490.6 L1002.7,490.6 L1000.2,490.7 L997.7,490.7 L995.2,490.8 L992.7,490.8 L990.2,490.8 L987.8,490.9 L985.3,490.9 L982.8,490.9 L980.3,490.9 L977.8,490.9 L975.3,491.0 L972.8,491.0 L970.3,491.0 L967.8,491.0 L965.3,491.0 L962.8,491.0 L960.4,491.0 L957.9,491.0 L955.4,491.0 L952.9,491.1 L950.4,491.1 L947.9,491.1 L945.4,491.1 L942.9,491.1 L940.4,491.1 L937.9,491.1 L935.4,491.1 L933.0,491.1 L930.5,491.1 L928.0,491.1 L925.5,491.1 L923.0,491.1 L920.5,491.1 L918.0,491.1 L915.5,491.1 L913.0,491.1 L910.5,491.1 L908.0,491.1 L905.6,491.1 L903.1,491.1 L900.6,491.1 L898.1,491.1 L895.6,491.1 L893.1,491.1 L890.6,491.1 L888.1,491.1 L885.6,491.1 L883.1,491.1 L880.6,491.1 L878.1,491.1 L875.7,491.1 L873.2,491.1 L870.7,491.1 L868.2,491.1 L865.7,491.1 L863.2,491.1 L860.7,491.1 L858.2,491.1 L855.7,491.1 L853.2,491.1 L850.7,491.1 L848.3,491.1 L845.8,491.1 L843.3,491.1 L840.8,491.1 L838.3,491.1 L835.8,491.1 Z"/></clipPath>
<path d="M835.8,448.7 L838.3,448.6 L840.8,448.6 L843.3,448.6 L845.8,448.6 L848.3,448.6 L850.7,448.6 L853.2,448.6 L855.7,448.5 L858.2,448.5 L860.7,448.5 L863.2,448.5 L865.7,448.5 L868.2,448.5 L870.7,448.4 L873.2,448.4 L875.7,448.4 L878.1,448.4 L880.6,448.3 L883.1,448.3 L885.6,448.3 L888.1,448.2 L890.6,448.2 L893.1,448.2 L895.6,448.1 L898.1,448.1 L900.6,448.0 L903.1,448.0 L905.6,447.9 L908.0,447.9 L910.5,447.8 L913.0,447.8 L915.5,447.7 L918.0,447.6 L920.5,447.6 L923.0,447.5 L925.5,447.4 L928.0,447.3 L930.5,447.2 L933.0,447.1 L935.4,447.0 L937.9,446.9 L940.4,446.8 L942.9,446.7 L945.4,446.5 L947.9,446.4 L950.4,446.2 L952.9,446.1 L955.4,445.9 L957.9,445.7 L960.4,445.6 L962.8,445.4 L965.3,445.1 L967.8,444.9 L970.3,444.7 L972.8,444.4 L975.3,444.2 L977.8,443.9 L980.3,443.6 L982.8,443.3 L985.3,443.0 L987.8,442.6 L990.2,442.2 L992.7,441.9 L995.2,441.4 L997.7,441.0 L1000.2,440.6 L1002.7,440.1 L1005.2,439.6 L1007.7,439.0 L1010.2,438.4 L1012.7,437.8 L1015.2,437.2 L1017.7,436.5 L1020.1,435.8 L1022.6,435.1 L1025.1,434.3 L1027.6,433.4 L1030.1,432.6 L1032.6,431.6 L1035.1,430.7 L1037.6,429.6 L1040.1,428.6 L1042.6,427.4 L1045.1,426.2 L1047.5,425.0 L1050.0,423.7 L1052.5,422.3 L1055.0,420.8 L1057.5,419.3 L1060.0,417.7 L1062.5,416.0 L1065.0,414.2 L1067.5,412.3 L1070.0,410.4 L1072.5,408.3 L1074.9,406.1 L1077.4,403.9 L1079.9,401.5 L1082.4,399.0 L1084.9,396.4 L1087.4,393.7 L1089.9,390.8 L1092.4,387.8 L1094.9,384.7 L1097.4,381.4 L1099.9,378.0 L1102.3,374.5 L1104.8,370.7 L1107.3,366.8 L1109.8,362.8 L1112.3,358.6 L1114.8,354.2 L1117.3,349.6 L1119.8,344.8 L1122.3,339.8 L1124.8,334.7 L1127.3,329.4 L1129.8,323.8 L1132.2,318.1 L1134.7,312.1 L1137.2,306.0 L1139.7,299.7 L1142.2,293.2 L1144.7,286.5 L1147.2,279.6 L1149.7,272.5 L1152.2,265.3 L1154.7,257.9 L1157.2,250.4 L1159.6,242.8 L1162.1,235.0 L1164.6,227.2 L1167.1,219.3 L1169.6,211.4 L1172.1,203.5 L1174.6,195.6 L1177.1,187.8 L1179.6,180.1 L1182.1,172.5 L1184.6,165.2 L1187.0,158.0 L1189.5,151.1 L1192.0,144.6 L1194.5,138.3 L1197.0,132.5 L1199.5,127.1 L1202.0,122.1 L1204.5,117.7 L1207.0,113.6 L1209.5,110.1 L1212.0,107.1 L1214.5,104.6 L1216.9,102.5 L1219.4,100.8 L1221.9,99.5 L1224.4,98.5 L1226.9,97.8 L1229.4,97.3 L1231.9,97.0 L1234.4,96.8 L1236.9,96.7 L1239.4,96.7 L1241.9,96.6 L1244.3,96.6 L1246.8,96.6 L1249.3,96.6 L1251.8,96.6 L1254.3,96.6 L1256.8,96.6 L1259.3,96.6 L1261.8,96.6 L1264.3,96.6 L1266.8,96.6 L1269.3,96.6 L1271.7,96.6 L1274.2,96.6 L1276.7,96.6 L1279.2,96.6 L1281.7,96.6 L1284.2,96.6 L1286.7,96.6 L1289.2,96.6 L1291.7,96.6 L1294.2,96.6 L1296.7,96.6 L1299.1,96.6 L1301.6,96.6 L1304.1,96.6 L1306.6,96.6 L1309.1,96.6 L1311.6,96.6 L1314.1,96.6 L1316.6,96.6 L1319.1,96.6 L1321.6,96.6 L1324.1,96.6 L1326.6,96.6 L1329.0,96.6 L1331.5,96.6 L1334.0,96.6 L1336.5,96.6 L1339.0,96.6 L1341.5,96.6 L1344.0,96.6 L1346.5,96.6 L1349.0,96.6 L1351.5,96.6 L1354.0,96.6 L1356.4,96.6 L1358.9,96.6 L1361.4,96.6 L1363.9,96.6 L1366.4,96.6 L1368.9,96.6 L1371.4,96.6 L1373.9,96.6 L1376.4,96.6 L1378.9,96.6 L1381.4,96.6 L1383.8,96.6 L1386.3,96.6 L1388.8,96.6 L1391.3,96.6 L1393.8,96.6 L1396.3,96.6 L1398.8,96.6 L1401.3,96.6 L1403.8,96.6 L1406.3,96.6 L1408.8,96.6 L1411.2,96.6 L1413.7,96.6 L1416.2,96.6 L1418.7,96.6 L1421.2,96.6 L1423.7,96.6 L1426.2,96.6 L1428.7,96.6 L1431.2,96.6 L1433.7,96.6 L1436.2,96.6 L1438.7,96.6 L1441.1,96.6 L1443.6,96.6 L1446.1,96.6 L1448.6,96.6 L1451.1,96.6 L1453.6,96.6 L1456.1,96.6 L1458.6,96.6 L1461.1,96.6 L1463.6,96.6 L1466.1,96.6 L1468.5,96.6 L1471.0,96.6 L1473.5,96.6 L1476.0,96.6 L1478.5,96.6 L1481.0,96.6 L1481.0,138.9 L1478.5,138.9 L1476.0,138.9 L1473.5,138.9 L1471.0,138.9 L1468.5,138.9 L1466.1,138.9 L1463.6,138.9 L1461.1,138.9 L1458.6,138.9 L1456.1,138.9 L1453.6,138.9 L1451.1,138.9 L1448.6,138.9 L1446.1,138.9 L1443.6,138.9 L1441.1,138.9 L1438.7,138.9 L1436.2,138.9 L1433.7,138.9 L1431.2,138.9 L1428.7,138.9 L1426.2,138.9 L1423.7,138.9 L1421.2,138.9 L1418.7,138.9 L1416.2,138.9 L1413.7,138.9 L1411.2,138.9 L1408.8,138.9 L1406.3,138.9 L1403.8,138.9 L1401.3,138.9 L1398.8,138.9 L1396.3,138.9 L1393.8,138.9 L1391.3,138.9 L1388.8,138.9 L1386.3,138.9 L1383.8,138.9 L1381.4,138.9 L1378.9,138.9 L1376.4,138.9 L1373.9,138.9 L1371.4,138.9 L1368.9,138.9 L1366.4,138.9 L1363.9,138.9 L1361.4,138.9 L1358.9,138.9 L1356.4,138.9 L1354.0,138.9 L1351.5,138.9 L1349.0,138.9 L1346.5,138.9 L1344.0,138.9 L1341.5,138.9 L1339.0,138.9 L1336.5,138.9 L1334.0,138.9 L1331.5,138.9 L1329.0,138.9 L1326.6,138.9 L1324.1,138.9 L1321.6,138.9 L1319.1,138.9 L1316.6,138.9 L1314.1,138.9 L1311.6,138.9 L1309.1,138.9 L1306.6,138.9 L1304.1,138.9 L1301.6,138.9 L1299.1,138.9 L1296.7,138.9 L1294.2,138.9 L1291.7,138.9 L1289.2,138.9 L1286.7,138.9 L1284.2,138.9 L1281.7,138.9 L1279.2,138.9 L1276.7,138.9 L1274.2,138.9 L1271.7,138.9 L1269.3,138.9 L1266.8,138.9 L1264.3,138.9 L1261.8,138.9 L1259.3,138.9 L1256.8,139.0 L1254.3,139.0 L1251.8,139.2 L1249.3,139.4 L1246.8,139.7 L1244.3,140.2 L1241.9,140.9 L1239.4,141.9 L1236.9,143.2 L1234.4,145.0 L1231.9,147.3 L1229.4,150.1 L1226.9,153.5 L1224.4,157.4 L1221.9,162.0 L1219.4,167.3 L1216.9,173.1 L1214.5,179.5 L1212.0,186.5 L1209.5,194.0 L1207.0,201.9 L1204.5,210.3 L1202.0,219.0 L1199.5,228.0 L1197.0,237.3 L1194.5,246.7 L1192.0,256.3 L1189.5,266.0 L1187.0,275.6 L1184.6,285.2 L1182.1,294.8 L1179.6,304.2 L1177.1,313.4 L1174.6,322.5 L1172.1,331.3 L1169.6,339.9 L1167.1,348.3 L1164.6,356.3 L1162.1,364.1 L1159.6,371.6 L1157.2,378.7 L1154.7,385.6 L1152.2,392.2 L1149.7,398.4 L1147.2,404.4 L1144.7,410.0 L1142.2,415.4 L1139.7,420.4 L1137.2,425.2 L1134.7,429.7 L1132.2,434.0 L1129.8,438.0 L1127.3,441.8 L1124.8,445.3 L1122.3,448.7 L1119.8,451.8 L1117.3,454.7 L1114.8,457.4 L1112.3,460.0 L1109.8,462.4 L1107.3,464.6 L1104.8,466.6 L1102.3,468.6 L1099.9,470.3 L1097.4,472.0 L1094.9,473.6 L1092.4,475.0 L1089.9,476.3 L1087.4,477.5 L1084.9,478.7 L1082.4,479.7 L1079.9,480.7 L1077.4,481.6 L1074.9,482.4 L1072.5,483.2 L1070.0,483.9 L1067.5,484.5 L1065.0,485.1 L1062.5,485.6 L1060.0,486.1 L1057.5,486.6 L1055.0,487.0 L1052.5,487.4 L1050.0,487.7 L1047.5,488.0 L1045.1,488.3 L1042.6,488.6 L1040.1,488.8 L1037.6,489.0 L1035.1,489.2 L1032.6,489.4 L1030.1,489.6 L1027.6,489.7 L1025.1,489.9 L1022.6,490.0 L1020.1,490.1 L1017.7,490.2 L1015.2,490.3 L1012.7,490.4 L1010.2,490.5 L1007.7,490.5 L1005.2,490.6 L1002.7,490.6 L1000.2,490.7 L997.7,490.7 L995.2,490.8 L992.7,490.8 L990.2,490.8 L987.8,490.9 L985.3,490.9 L982.8,490.9 L980.3,490.9 L977.8,490.9 L975.3,491.0 L972.8,491.0 L970.3,491.0 L967.8,491.0 L965.3,491.0 L962.8,491.0 L960.4,491.0 L957.9,491.0 L955.4,491.0 L952.9,491.1 L950.4,491.1 L947.9,491.1 L945.4,491.1 L942.9,491.1 L940.4,491.1 L937.9,491.1 L935.4,491.1 L933.0,491.1 L930.5,491.1 L928.0,491.1 L925.5,491.1 L923.0,491.1 L920.5,491.1 L918.0,491.1 L915.5,491.1 L913.0,491.1 L910.5,491.1 L908.0,491.1 L905.6,491.1 L903.1,491.1 L900.6,491.1 L898.1,491.1 L895.6,491.1 L893.1,491.1 L890.6,491.1 L888.1,491.1 L885.6,491.1 L883.1,491.1 L880.6,491.1 L878.1,491.1 L875.7,491.1 L873.2,491.1 L870.7,491.1 L868.2,491.1 L865.7,491.1 L863.2,491.1 L860.7,491.1 L858.2,491.1 L855.7,491.1 L853.2,491.1 L850.7,491.1 L848.3,491.1 L845.8,491.1 L843.3,491.1 L840.8,491.1 L838.3,491.1 L835.8,491.1 Z" fill="#d7d7d7"/>
<g clip-path="url(#bandB)">
<path d="M835.8,491.0 L838.3,491.0 L840.8,491.0 L843.3,491.0 L845.8,491.0 L848.3,491.0 L850.7,491.0 L853.2,491.0 L855.7,490.9 L858.2,490.9 L860.7,490.9 L863.2,490.9 L865.7,490.9 L868.2,490.9 L870.7,490.9 L873.2,490.9 L875.7,490.9 L878.1,490.8 L880.6,490.8 L883.1,490.8 L885.6,490.8 L888.1,490.8 L890.6,490.8 L893.1,490.7 L895.6,490.7 L898.1,490.7 L900.6,490.7 L903.1,490.6 L905.6,490.6 L908.0,490.6 L910.5,490.5 L913.0,490.5 L915.5,490.5 L918.0,490.4 L920.5,490.4 L923.0,490.3 L925.5,490.3 L928.0,490.2 L930.5,490.2 L933.0,490.1 L935.4,490.1 L937.9,490.0 L940.4,489.9 L942.9,489.9 L945.4,489.8 L947.9,489.7 L950.4,489.6 L952.9,489.5 L955.4,489.4 L957.9,489.3 L960.4,489.2 L962.8,489.1 L965.3,489.0 L967.8,488.9 L970.3,488.7 L972.8,488.6 L975.3,488.4 L977.8,488.3 L980.3,488.1 L982.8,487.9 L985.3,487.7 L987.8,487.5 L990.2,487.3 L992.7,487.0 L995.2,486.8 L997.7,486.5 L1000.2,486.2 L1002.7,485.9 L1005.2,485.6 L1007.7,485.3 L1010.2,484.9 L1012.7,484.5 L1015.2,484.1 L1017.7,483.7 L1020.1,483.3 L1022.6,482.8 L1025.1,482.3 L1027.6,481.7 L1030.1,481.2 L1032.6,480.5 L1035.1,479.9 L1037.6,479.2 L1040.1,478.5 L1042.6,477.7 L1045.1,476.9 L1047.5,476.0 L1050.0,475.1 L1052.5,474.1 L1055.0,473.1 L1057.5,472.0 L1060.0,470.9 L1062.5,469.6 L1065.0,468.3 L1067.5,467.0 L1070.0,465.5 L1072.5,464.0 L1074.9,462.3 L1077.4,460.6 L1079.9,458.8 L1082.4,456.8 L1084.9,454.8 L1087.4,452.6 L1089.9,450.3 L1092.4,447.9 L1094.9,445.4 L1097.4,442.7 L1099.9,439.8 L1102.3,436.8 L1104.8,433.7 L1107.3,430.3 L1109.8,426.8 L1112.3,423.1 L1114.8,419.2 L1117.3,415.1 L1119.8,410.8 L1122.3,406.3 L1124.8,401.6 L1127.3,396.6 L1129.8,391.4 L1132.2,385.9 L1134.7,380.2 L1137.2,374.2 L1139.7,368.0 L1142.2,361.5 L1144.7,354.8 L1147.2,347.7 L1149.7,340.5 L1152.2,332.9 L1154.7,325.1 L1157.2,317.1 L1159.6,308.8 L1162.1,300.2 L1164.6,291.5 L1167.1,282.6 L1169.6,273.5 L1172.1,264.2 L1174.6,254.9 L1177.1,245.4 L1179.6,235.9 L1182.1,226.4 L1184.6,217.0 L1187.0,207.6 L1189.5,198.3 L1192.0,189.2 L1194.5,180.4 L1197.0,171.8 L1199.5,163.6 L1202.0,155.8 L1204.5,148.4 L1207.0,141.4 L1209.5,135.0 L1212.0,129.1 L1214.5,123.8 L1216.9,119.0 L1219.4,114.8 L1221.9,111.2 L1224.4,108.1 L1226.9,105.4 L1229.4,103.3 L1231.9,101.5 L1234.4,100.2 L1236.9,99.1 L1239.4,98.3 L1241.9,97.7 L1244.3,97.3 L1246.8,97.1 L1249.3,96.9 L1251.8,96.8 L1254.3,96.7 L1256.8,96.6 L1259.3,96.6 L1261.8,96.6 L1264.3,96.6 L1266.8,96.6 L1269.3,96.6 L1271.7,96.6 L1274.2,96.6 L1276.7,96.6 L1279.2,96.6 L1281.7,96.6 L1284.2,96.6 L1286.7,96.6 L1289.2,96.6 L1291.7,96.6 L1294.2,96.6 L1296.7,96.6 L1299.1,96.6 L1301.6,96.6 L1304.1,96.6 L1306.6,96.6 L1309.1,96.6 L1311.6,96.6 L1314.1,96.6 L1316.6,96.6 L1319.1,96.6 L1321.6,96.6 L1324.1,96.6 L1326.6,96.6 L1329.0,96.6 L1331.5,96.6 L1334.0,96.6 L1336.5,96.6 L1339.0,96.6 L1341.5,96.6 L1344.0,96.6 L1346.5,96.6 L1349.0,96.6 L1351.5,96.6 L1354.0,96.6 L1356.4,96.6 L1358.9,96.6 L1361.4,96.6 L1363.9,96.6 L1366.4,96.6 L1368.9,96.6 L1371.4,96.6 L1373.9,96.6 L1376.4,96.6 L1378.9,96.6 L1381.4,96.6 L1383.8,96.6 L1386.3,96.6 L1388.8,96.6 L1391.3,96.6 L1393.8,96.6 L1396.3,96.6 L1398.8,96.6 L1401.3,96.6 L1403.8,96.6 L1406.3,96.6 L1408.8,96.6 L1411.2,96.6 L1413.7,96.6 L1416.2,96.6 L1418.7,96.6 L1421.2,96.6 L1423.7,96.6 L1426.2,96.6 L1428.7,96.6 L1431.2,96.6 L1433.7,96.6 L1436.2,96.6 L1438.7,96.6 L1441.1,96.6 L1443.6,96.6 L1446.1,96.6 L1448.6,96.6 L1451.1,96.6 L1453.6,96.6 L1456.1,96.6 L1458.6,96.6 L1461.1,96.6 L1463.6,96.6 L1466.1,96.6 L1468.5,96.6 L1471.0,96.6 L1473.5,96.6 L1476.0,96.6 L1478.5,96.6 L1481.0,96.6" fill="none" stroke="#e2e0e1" stroke-width="17"/>
<path d="M835.8,491.0 L838.3,491.0 L840.8,491.0 L843.3,491.0 L845.8,491.0 L848.3,491.0 L850.7,491.0 L853.2,491.0 L855.7,490.9 L858.2,490.9 L860.7,490.9 L863.2,490.9 L865.7,490.9 L868.2,490.9 L870.7,490.9 L873.2,490.9 L875.7,490.9 L878.1,490.8 L880.6,490.8 L883.1,490.8 L885.6,490.8 L888.1,490.8 L890.6,490.8 L893.1,490.7 L895.6,490.7 L898.1,490.7 L900.6,490.7 L903.1,490.6 L905.6,490.6 L908.0,490.6 L910.5,490.5 L913.0,490.5 L915.5,490.5 L918.0,490.4 L920.5,490.4 L923.0,490.3 L925.5,490.3 L928.0,490.2 L930.5,490.2 L933.0,490.1 L935.4,490.1 L937.9,490.0 L940.4,489.9 L942.9,489.9 L945.4,489.8 L947.9,489.7 L950.4,489.6 L952.9,489.5 L955.4,489.4 L957.9,489.3 L960.4,489.2 L962.8,489.1 L965.3,489.0 L967.8,488.9 L970.3,488.7 L972.8,488.6 L975.3,488.4 L977.8,488.3 L980.3,488.1 L982.8,487.9 L985.3,487.7 L987.8,487.5 L990.2,487.3 L992.7,487.0 L995.2,486.8 L997.7,486.5 L1000.2,486.2 L1002.7,485.9 L1005.2,485.6 L1007.7,485.3 L1010.2,484.9 L1012.7,484.5 L1015.2,484.1 L1017.7,483.7 L1020.1,483.3 L1022.6,482.8 L1025.1,482.3 L1027.6,481.7 L1030.1,481.2 L1032.6,480.5 L1035.1,479.9 L1037.6,479.2 L1040.1,478.5 L1042.6,477.7 L1045.1,476.9 L1047.5,476.0 L1050.0,475.1 L1052.5,474.1 L1055.0,473.1 L1057.5,472.0 L1060.0,470.9 L1062.5,469.6 L1065.0,468.3 L1067.5,467.0 L1070.0,465.5 L1072.5,464.0 L1074.9,462.3 L1077.4,460.6 L1079.9,458.8 L1082.4,456.8 L1084.9,454.8 L1087.4,452.6 L1089.9,450.3 L1092.4,447.9 L1094.9,445.4 L1097.4,442.7 L1099.9,439.8 L1102.3,436.8 L1104.8,433.7 L1107.3,430.3 L1109.8,426.8 L1112.3,423.1 L1114.8,419.2 L1117.3,415.1 L1119.8,410.8 L1122.3,406.3 L1124.8,401.6 L1127.3,396.6 L1129.8,391.4 L1132.2,385.9 L1134.7,380.2 L1137.2,374.2 L1139.7,368.0 L1142.2,361.5 L1144.7,354.8 L1147.2,347.7 L1149.7,340.5 L1152.2,332.9 L1154.7,325.1 L1157.2,317.1 L1159.6,308.8 L1162.1,300.2 L1164.6,291.5 L1167.1,282.6 L1169.6,273.5 L1172.1,264.2 L1174.6,254.9 L1177.1,245.4 L1179.6,235.9 L1182.1,226.4 L1184.6,217.0 L1187.0,207.6 L1189.5,198.3 L1192.0,189.2 L1194.5,180.4 L1197.0,171.8 L1199.5,163.6 L1202.0,155.8 L1204.5,148.4 L1207.0,141.4 L1209.5,135.0 L1212.0,129.1 L1214.5,123.8 L1216.9,119.0 L1219.4,114.8 L1221.9,111.2 L1224.4,108.1 L1226.9,105.4 L1229.4,103.3 L1231.9,101.5 L1234.4,100.2 L1236.9,99.1 L1239.4,98.3 L1241.9,97.7 L1244.3,97.3 L1246.8,97.1 L1249.3,96.9 L1251.8,96.8 L1254.3,96.7 L1256.8,96.6 L1259.3,96.6 L1261.8,96.6 L1264.3,96.6 L1266.8,96.6 L1269.3,96.6 L1271.7,96.6 L1274.2,96.6 L1276.7,96.6 L1279.2,96.6 L1281.7,96.6 L1284.2,96.6 L1286.7,96.6 L1289.2,96.6 L1291.7,96.6 L1294.2,96.6 L1296.7,96.6 L1299.1,96.6 L1301.6,96.6 L1304.1,96.6 L1306.6,96.6 L1309.1,96.6 L1311.6,96.6 L1314.1,96.6 L1316.6,96.6 L1319.1,96.6 L1321.6,96.6 L1324.1,96.6 L1326.6,96.6 L1329.0,96.6 L1331.5,96.6 L1334.0,96.6 L1336.5,96.6 L1339.0,96.6 L1341.5,96.6 L1344.0,96.6 L1346.5,96.6 L1349.0,96.6 L1351.5,96.6 L1354.0,96.6 L1356.4,96.6 L1358.9,96.6 L1361.4,96.6 L1363.9,96.6 L1366.4,96.6 L1368.9,96.6 L1371.4,96.6 L1373.9,96.6 L1376.4,96.6 L1378.9,96.6 L1381.4,96.6 L1383.8,96.6 L1386.3,96.6 L1388.8,96.6 L1391.3,96.6 L1393.8,96.6 L1396.3,96.6 L1398.8,96.6 L1401.3,96.6 L1403.8,96.6 L1406.3,96.6 L1408.8,96.6 L1411.2,96.6 L1413.7,96.6 L1416.2,96.6 L1418.7,96.6 L1421.2,96.6 L1423.7,96.6 L1426.2,96.6 L1428.7,96.6 L1431.2,96.6 L1433.7,96.6 L1436.2,96.6 L1438.7,96.6 L1441.1,96.6 L1443.6,96.6 L1446.1,96.6 L1448.6,96.6 L1451.1,96.6 L1453.6,96.6 L1456.1,96.6 L1458.6,96.6 L1461.1,96.6 L1463.6,96.6 L1466.1,96.6 L1468.5,96.6 L1471.0,96.6 L1473.5,96.6 L1476.0,96.6 L1478.5,96.6 L1481.0,96.6" fill="none" stroke="#ece8e9" stroke-width="11.5"/>
<path d="M835.8,448.7 L838.3,448.6 L840.8,448.6 L843.3,448.6 L845.8,448.6 L848.3,448.6 L850.7,448.6 L853.2,448.6 L855.7,448.5 L858.2,448.5 L860.7,448.5 L863.2,448.5 L865.7,448.5 L868.2,448.5 L870.7,448.4 L873.2,448.4 L875.7,448.4 L878.1,448.4 L880.6,448.3 L883.1,448.3 L885.6,448.3 L888.1,448.2 L890.6,448.2 L893.1,448.2 L895.6,448.1 L898.1,448.1 L900.6,448.0 L903.1,448.0 L905.6,447.9 L908.0,447.9 L910.5,447.8 L913.0,447.8 L915.5,447.7 L918.0,447.6 L920.5,447.6 L923.0,447.5 L925.5,447.4 L928.0,447.3 L930.5,447.2 L933.0,447.1 L935.4,447.0 L937.9,446.9 L940.4,446.8 L942.9,446.7 L945.4,446.5 L947.9,446.4 L950.4,446.2 L952.9,446.1 L955.4,445.9 L957.9,445.7 L960.4,445.6 L962.8,445.4 L965.3,445.1 L967.8,444.9 L970.3,444.7 L972.8,444.4 L975.3,444.2 L977.8,443.9 L980.3,443.6 L982.8,443.3 L985.3,443.0 L987.8,442.6 L990.2,442.2 L992.7,441.9 L995.2,441.4 L997.7,441.0 L1000.2,440.6 L1002.7,440.1 L1005.2,439.6 L1007.7,439.0 L1010.2,438.4 L1012.7,437.8 L1015.2,437.2 L1017.7,436.5 L1020.1,435.8 L1022.6,435.1 L1025.1,434.3 L1027.6,433.4 L1030.1,432.6 L1032.6,431.6 L1035.1,430.7 L1037.6,429.6 L1040.1,428.6 L1042.6,427.4 L1045.1,426.2 L1047.5,425.0 L1050.0,423.7 L1052.5,422.3 L1055.0,420.8 L1057.5,419.3 L1060.0,417.7 L1062.5,416.0 L1065.0,414.2 L1067.5,412.3 L1070.0,410.4 L1072.5,408.3 L1074.9,406.1 L1077.4,403.9 L1079.9,401.5 L1082.4,399.0 L1084.9,396.4 L1087.4,393.7 L1089.9,390.8 L1092.4,387.8 L1094.9,384.7 L1097.4,381.4 L1099.9,378.0 L1102.3,374.5 L1104.8,370.7 L1107.3,366.8 L1109.8,362.8 L1112.3,358.6 L1114.8,354.2 L1117.3,349.6 L1119.8,344.8 L1122.3,339.8 L1124.8,334.7 L1127.3,329.4 L1129.8,323.8 L1132.2,318.1 L1134.7,312.1 L1137.2,306.0 L1139.7,299.7 L1142.2,293.2 L1144.7,286.5 L1147.2,279.6 L1149.7,272.5 L1152.2,265.3 L1154.7,257.9 L1157.2,250.4 L1159.6,242.8 L1162.1,235.0 L1164.6,227.2 L1167.1,219.3 L1169.6,211.4 L1172.1,203.5 L1174.6,195.6 L1177.1,187.8 L1179.6,180.1 L1182.1,172.5 L1184.6,165.2 L1187.0,158.0 L1189.5,151.1 L1192.0,144.6 L1194.5,138.3 L1197.0,132.5 L1199.5,127.1 L1202.0,122.1 L1204.5,117.7 L1207.0,113.6 L1209.5,110.1 L1212.0,107.1 L1214.5,104.6 L1216.9,102.5 L1219.4,100.8 L1221.9,99.5 L1224.4,98.5 L1226.9,97.8 L1229.4,97.3 L1231.9,97.0 L1234.4,96.8 L1236.9,96.7 L1239.4,96.7 L1241.9,96.6 L1244.3,96.6 L1246.8,96.6 L1249.3,96.6 L1251.8,96.6 L1254.3,96.6 L1256.8,96.6 L1259.3,96.6 L1261.8,96.6 L1264.3,96.6 L1266.8,96.6 L1269.3,96.6 L1271.7,96.6 L1274.2,96.6 L1276.7,96.6 L1279.2,96.6 L1281.7,96.6 L1284.2,96.6 L1286.7,96.6 L1289.2,96.6 L1291.7,96.6 L1294.2,96.6 L1296.7,96.6 L1299.1,96.6 L1301.6,96.6 L1304.1,96.6 L1306.6,96.6 L1309.1,96.6 L1311.6,96.6 L1314.1,96.6 L1316.6,96.6 L1319.1,96.6 L1321.6,96.6 L1324.1,96.6 L1326.6,96.6 L1329.0,96.6 L1331.5,96.6 L1334.0,96.6 L1336.5,96.6 L1339.0,96.6 L1341.5,96.6 L1344.0,96.6 L1346.5,96.6 L1349.0,96.6 L1351.5,96.6 L1354.0,96.6 L1356.4,96.6 L1358.9,96.6 L1361.4,96.6 L1363.9,96.6 L1366.4,96.6 L1368.9,96.6 L1371.4,96.6 L1373.9,96.6 L1376.4,96.6 L1378.9,96.6 L1381.4,96.6 L1383.8,96.6 L1386.3,96.6 L1388.8,96.6 L1391.3,96.6 L1393.8,96.6 L1396.3,96.6 L1398.8,96.6 L1401.3,96.6 L1403.8,96.6 L1406.3,96.6 L1408.8,96.6 L1411.2,96.6 L1413.7,96.6 L1416.2,96.6 L1418.7,96.6 L1421.2,96.6 L1423.7,96.6 L1426.2,96.6 L1428.7,96.6 L1431.2,96.6 L1433.7,96.6 L1436.2,96.6 L1438.7,96.6 L1441.1,96.6 L1443.6,96.6 L1446.1,96.6 L1448.6,96.6 L1451.1,96.6 L1453.6,96.6 L1456.1,96.6 L1458.6,96.6 L1461.1,96.6 L1463.6,96.6 L1466.1,96.6 L1468.5,96.6 L1471.0,96.6 L1473.5,96.6 L1476.0,96.6 L1478.5,96.6 L1481.0,96.6" fill="none" stroke="#ebe7e8" stroke-width="7"/>
<path d="M835.8,491.1 L838.3,491.1 L840.8,491.1 L843.3,491.1 L845.8,491.1 L848.3,491.1 L850.7,491.1 L853.2,491.1 L855.7,491.1 L858.2,491.1 L860.7,491.1 L863.2,491.1 L865.7,491.1 L868.2,491.1 L870.7,491.1 L873.2,491.1 L875.7,491.1 L878.1,491.1 L880.6,491.1 L883.1,491.1 L885.6,491.1 L888.1,491.1 L890.6,491.1 L893.1,491.1 L895.6,491.1 L898.1,491.1 L900.6,491.1 L903.1,491.1 L905.6,491.1 L908.0,491.1 L910.5,491.1 L913.0,491.1 L915.5,491.1 L918.0,491.1 L920.5,491.1 L923.0,491.1 L925.5,491.1 L928.0,491.1 L930.5,491.1 L933.0,491.1 L935.4,491.1 L937.9,491.1 L940.4,491.1 L942.9,491.1 L945.4,491.1 L947.9,491.1 L950.4,491.1 L952.9,491.1 L955.4,491.0 L957.9,491.0 L960.4,491.0 L962.8,491.0 L965.3,491.0 L967.8,491.0 L970.3,491.0 L972.8,491.0 L975.3,491.0 L977.8,490.9 L980.3,490.9 L982.8,490.9 L985.3,490.9 L987.8,490.9 L990.2,490.8 L992.7,490.8 L995.2,490.8 L997.7,490.7 L1000.2,490.7 L1002.7,490.6 L1005.2,490.6 L1007.7,490.5 L1010.2,490.5 L1012.7,490.4 L1015.2,490.3 L1017.7,490.2 L1020.1,490.1 L1022.6,490.0 L1025.1,489.9 L1027.6,489.7 L1030.1,489.6 L1032.6,489.4 L1035.1,489.2 L1037.6,489.0 L1040.1,488.8 L1042.6,488.6 L1045.1,488.3 L1047.5,488.0 L1050.0,487.7 L1052.5,487.4 L1055.0,487.0 L1057.5,486.6 L1060.0,486.1 L1062.5,485.6 L1065.0,485.1 L1067.5,484.5 L1070.0,483.9 L1072.5,483.2 L1074.9,482.4 L1077.4,481.6 L1079.9,480.7 L1082.4,479.7 L1084.9,478.7 L1087.4,477.5 L1089.9,476.3 L1092.4,475.0 L1094.9,473.6 L1097.4,472.0 L1099.9,470.3 L1102.3,468.6 L1104.8,466.6 L1107.3,464.6 L1109.8,462.4 L1112.3,460.0 L1114.8,457.4 L1117.3,454.7 L1119.8,451.8 L1122.3,448.7 L1124.8,445.3 L1127.3,441.8 L1129.8,438.0 L1132.2,434.0 L1134.7,429.7 L1137.2,425.2 L1139.7,420.4 L1142.2,415.4 L1144.7,410.0 L1147.2,404.4 L1149.7,398.4 L1152.2,392.2 L1154.7,385.6 L1157.2,378.7 L1159.6,371.6 L1162.1,364.1 L1164.6,356.3 L1167.1,348.3 L1169.6,339.9 L1172.1,331.3 L1174.6,322.5 L1177.1,313.4 L1179.6,304.2 L1182.1,294.8 L1184.6,285.2 L1187.0,275.6 L1189.5,266.0 L1192.0,256.3 L1194.5,246.7 L1197.0,237.3 L1199.5,228.0 L1202.0,219.0 L1204.5,210.3 L1207.0,201.9 L1209.5,194.0 L1212.0,186.5 L1214.5,179.5 L1216.9,173.1 L1219.4,167.3 L1221.9,162.0 L1224.4,157.4 L1226.9,153.5 L1229.4,150.1 L1231.9,147.3 L1234.4,145.0 L1236.9,143.2 L1239.4,141.9 L1241.9,140.9 L1244.3,140.2 L1246.8,139.7 L1249.3,139.4 L1251.8,139.2 L1254.3,139.0 L1256.8,139.0 L1259.3,138.9 L1261.8,138.9 L1264.3,138.9 L1266.8,138.9 L1269.3,138.9 L1271.7,138.9 L1274.2,138.9 L1276.7,138.9 L1279.2,138.9 L1281.7,138.9 L1284.2,138.9 L1286.7,138.9 L1289.2,138.9 L1291.7,138.9 L1294.2,138.9 L1296.7,138.9 L1299.1,138.9 L1301.6,138.9 L1304.1,138.9 L1306.6,138.9 L1309.1,138.9 L1311.6,138.9 L1314.1,138.9 L1316.6,138.9 L1319.1,138.9 L1321.6,138.9 L1324.1,138.9 L1326.6,138.9 L1329.0,138.9 L1331.5,138.9 L1334.0,138.9 L1336.5,138.9 L1339.0,138.9 L1341.5,138.9 L1344.0,138.9 L1346.5,138.9 L1349.0,138.9 L1351.5,138.9 L1354.0,138.9 L1356.4,138.9 L1358.9,138.9 L1361.4,138.9 L1363.9,138.9 L1366.4,138.9 L1368.9,138.9 L1371.4,138.9 L1373.9,138.9 L1376.4,138.9 L1378.9,138.9 L1381.4,138.9 L1383.8,138.9 L1386.3,138.9 L1388.8,138.9 L1391.3,138.9 L1393.8,138.9 L1396.3,138.9 L1398.8,138.9 L1401.3,138.9 L1403.8,138.9 L1406.3,138.9 L1408.8,138.9 L1411.2,138.9 L1413.7,138.9 L1416.2,138.9 L1418.7,138.9 L1421.2,138.9 L1423.7,138.9 L1426.2,138.9 L1428.7,138.9 L1431.2,138.9 L1433.7,138.9 L1436.2,138.9 L1438.7,138.9 L1441.1,138.9 L1443.6,138.9 L1446.1,138.9 L1448.6,138.9 L1451.1,138.9 L1453.6,138.9 L1456.1,138.9 L1458.6,138.9 L1461.1,138.9 L1463.6,138.9 L1466.1,138.9 L1468.5,138.9 L1471.0,138.9 L1473.5,138.9 L1476.0,138.9 L1478.5,138.9 L1481.0,138.9" fill="none" stroke="#ebe7e8" stroke-width="7"/>
</g>
<path d="M835.8,448.7 L838.3,448.6 L840.8,448.6 L843.3,448.6 L845.8,448.6 L848.3,448.6 L850.7,448.6 L853.2,448.6 L855.7,448.5 L858.2,448.5 L860.7,448.5 L863.2,448.5 L865.7,448.5 L868.2,448.5 L870.7,448.4 L873.2,448.4 L875.7,448.4 L878.1,448.4 L880.6,448.3 L883.1,448.3 L885.6,448.3 L888.1,448.2 L890.6,448.2 L893.1,448.2 L895.6,448.1 L898.1,448.1 L900.6,448.0 L903.1,448.0 L905.6,447.9 L908.0,447.9 L910.5,447.8 L913.0,447.8 L915.5,447.7 L918.0,447.6 L920.5,447.6 L923.0,447.5 L925.5,447.4 L928.0,447.3 L930.5,447.2 L933.0,447.1 L935.4,447.0 L937.9,446.9 L940.4,446.8 L942.9,446.7 L945.4,446.5 L947.9,446.4 L950.4,446.2 L952.9,446.1 L955.4,445.9 L957.9,445.7 L960.4,445.6 L962.8,445.4 L965.3,445.1 L967.8,444.9 L970.3,444.7 L972.8,444.4 L975.3,444.2 L977.8,443.9 L980.3,443.6 L982.8,443.3 L985.3,443.0 L987.8,442.6 L990.2,442.2 L992.7,441.9 L995.2,441.4 L997.7,441.0 L1000.2,440.6 L1002.7,440.1 L1005.2,439.6 L1007.7,439.0 L1010.2,438.4 L1012.7,437.8 L1015.2,437.2 L1017.7,436.5 L1020.1,435.8 L1022.6,435.1 L1025.1,434.3 L1027.6,433.4 L1030.1,432.6 L1032.6,431.6 L1035.1,430.7 L1037.6,429.6 L1040.1,428.6 L1042.6,427.4 L1045.1,426.2 L1047.5,425.0 L1050.0,423.7 L1052.5,422.3 L1055.0,420.8 L1057.5,419.3 L1060.0,417.7 L1062.5,416.0 L1065.0,414.2 L1067.5,412.3 L1070.0,410.4 L1072.5,408.3 L1074.9,406.1 L1077.4,403.9 L1079.9,401.5 L1082.4,399.0 L1084.9,396.4 L1087.4,393.7 L1089.9,390.8 L1092.4,387.8 L1094.9,384.7 L1097.4,381.4 L1099.9,378.0 L1102.3,374.5 L1104.8,370.7 L1107.3,366.8 L1109.8,362.8 L1112.3,358.6 L1114.8,354.2 L1117.3,349.6 L1119.8,344.8 L1122.3,339.8 L1124.8,334.7 L1127.3,329.4 L1129.8,323.8 L1132.2,318.1 L1134.7,312.1 L1137.2,306.0 L1139.7,299.7 L1142.2,293.2 L1144.7,286.5 L1147.2,279.6 L1149.7,272.5 L1152.2,265.3 L1154.7,257.9 L1157.2,250.4 L1159.6,242.8 L1162.1,235.0 L1164.6,227.2 L1167.1,219.3 L1169.6,211.4 L1172.1,203.5 L1174.6,195.6 L1177.1,187.8 L1179.6,180.1 L1182.1,172.5 L1184.6,165.2 L1187.0,158.0 L1189.5,151.1 L1192.0,144.6 L1194.5,138.3 L1197.0,132.5 L1199.5,127.1 L1202.0,122.1 L1204.5,117.7 L1207.0,113.6 L1209.5,110.1 L1212.0,107.1 L1214.5,104.6 L1216.9,102.5 L1219.4,100.8 L1221.9,99.5 L1224.4,98.5 L1226.9,97.8 L1229.4,97.3 L1231.9,97.0 L1234.4,96.8 L1236.9,96.7 L1239.4,96.7 L1241.9,96.6 L1244.3,96.6 L1246.8,96.6 L1249.3,96.6 L1251.8,96.6 L1254.3,96.6 L1256.8,96.6 L1259.3,96.6 L1261.8,96.6 L1264.3,96.6 L1266.8,96.6 L1269.3,96.6 L1271.7,96.6 L1274.2,96.6 L1276.7,96.6 L1279.2,96.6 L1281.7,96.6 L1284.2,96.6 L1286.7,96.6 L1289.2,96.6 L1291.7,96.6 L1294.2,96.6 L1296.7,96.6 L1299.1,96.6 L1301.6,96.6 L1304.1,96.6 L1306.6,96.6 L1309.1,96.6 L1311.6,96.6 L1314.1,96.6 L1316.6,96.6 L1319.1,96.6 L1321.6,96.6 L1324.1,96.6 L1326.6,96.6 L1329.0,96.6 L1331.5,96.6 L1334.0,96.6 L1336.5,96.6 L1339.0,96.6 L1341.5,96.6 L1344.0,96.6 L1346.5,96.6 L1349.0,96.6 L1351.5,96.6 L1354.0,96.6 L1356.4,96.6 L1358.9,96.6 L1361.4,96.6 L1363.9,96.6 L1366.4,96.6 L1368.9,96.6 L1371.4,96.6 L1373.9,96.6 L1376.4,96.6 L1378.9,96.6 L1381.4,96.6 L1383.8,96.6 L1386.3,96.6 L1388.8,96.6 L1391.3,96.6 L1393.8,96.6 L1396.3,96.6 L1398.8,96.6 L1401.3,96.6 L1403.8,96.6 L1406.3,96.6 L1408.8,96.6 L1411.2,96.6 L1413.7,96.6 L1416.2,96.6 L1418.7,96.6 L1421.2,96.6 L1423.7,96.6 L1426.2,96.6 L1428.7,96.6 L1431.2,96.6 L1433.7,96.6 L1436.2,96.6 L1438.7,96.6 L1441.1,96.6 L1443.6,96.6 L1446.1,96.6 L1448.6,96.6 L1451.1,96.6 L1453.6,96.6 L1456.1,96.6 L1458.6,96.6 L1461.1,96.6 L1463.6,96.6 L1466.1,96.6 L1468.5,96.6 L1471.0,96.6 L1473.5,96.6 L1476.0,96.6 L1478.5,96.6 L1481.0,96.6" fill="none" stroke="#f8dfe3" stroke-width="5"/>
<path d="M835.8,491.1 L838.3,491.1 L840.8,491.1 L843.3,491.1 L845.8,491.1 L848.3,491.1 L850.7,491.1 L853.2,491.1 L855.7,491.1 L858.2,491.1 L860.7,491.1 L863.2,491.1 L865.7,491.1 L868.2,491.1 L870.7,491.1 L873.2,491.1 L875.7,491.1 L878.1,491.1 L880.6,491.1 L883.1,491.1 L885.6,491.1 L888.1,491.1 L890.6,491.1 L893.1,491.1 L895.6,491.1 L898.1,491.1 L900.6,491.1 L903.1,491.1 L905.6,491.1 L908.0,491.1 L910.5,491.1 L913.0,491.1 L915.5,491.1 L918.0,491.1 L920.5,491.1 L923.0,491.1 L925.5,491.1 L928.0,491.1 L930.5,491.1 L933.0,491.1 L935.4,491.1 L937.9,491.1 L940.4,491.1 L942.9,491.1 L945.4,491.1 L947.9,491.1 L950.4,491.1 L952.9,491.1 L955.4,491.0 L957.9,491.0 L960.4,491.0 L962.8,491.0 L965.3,491.0 L967.8,491.0 L970.3,491.0 L972.8,491.0 L975.3,491.0 L977.8,490.9 L980.3,490.9 L982.8,490.9 L985.3,490.9 L987.8,490.9 L990.2,490.8 L992.7,490.8 L995.2,490.8 L997.7,490.7 L1000.2,490.7 L1002.7,490.6 L1005.2,490.6 L1007.7,490.5 L1010.2,490.5 L1012.7,490.4 L1015.2,490.3 L1017.7,490.2 L1020.1,490.1 L1022.6,490.0 L1025.1,489.9 L1027.6,489.7 L1030.1,489.6 L1032.6,489.4 L1035.1,489.2 L1037.6,489.0 L1040.1,488.8 L1042.6,488.6 L1045.1,488.3 L1047.5,488.0 L1050.0,487.7 L1052.5,487.4 L1055.0,487.0 L1057.5,486.6 L1060.0,486.1 L1062.5,485.6 L1065.0,485.1 L1067.5,484.5 L1070.0,483.9 L1072.5,483.2 L1074.9,482.4 L1077.4,481.6 L1079.9,480.7 L1082.4,479.7 L1084.9,478.7 L1087.4,477.5 L1089.9,476.3 L1092.4,475.0 L1094.9,473.6 L1097.4,472.0 L1099.9,470.3 L1102.3,468.6 L1104.8,466.6 L1107.3,464.6 L1109.8,462.4 L1112.3,460.0 L1114.8,457.4 L1117.3,454.7 L1119.8,451.8 L1122.3,448.7 L1124.8,445.3 L1127.3,441.8 L1129.8,438.0 L1132.2,434.0 L1134.7,429.7 L1137.2,425.2 L1139.7,420.4 L1142.2,415.4 L1144.7,410.0 L1147.2,404.4 L1149.7,398.4 L1152.2,392.2 L1154.7,385.6 L1157.2,378.7 L1159.6,371.6 L1162.1,364.1 L1164.6,356.3 L1167.1,348.3 L1169.6,339.9 L1172.1,331.3 L1174.6,322.5 L1177.1,313.4 L1179.6,304.2 L1182.1,294.8 L1184.6,285.2 L1187.0,275.6 L1189.5,266.0 L1192.0,256.3 L1194.5,246.7 L1197.0,237.3 L1199.5,228.0 L1202.0,219.0 L1204.5,210.3 L1207.0,201.9 L1209.5,194.0 L1212.0,186.5 L1214.5,179.5 L1216.9,173.1 L1219.4,167.3 L1221.9,162.0 L1224.4,157.4 L1226.9,153.5 L1229.4,150.1 L1231.9,147.3 L1234.4,145.0 L1236.9,143.2 L1239.4,141.9 L1241.9,140.9 L1244.3,140.2 L1246.8,139.7 L1249.3,139.4 L1251.8,139.2 L1254.3,139.0 L1256.8,139.0 L1259.3,138.9 L1261.8,138.9 L1264.3,138.9 L1266.8,138.9 L1269.3,138.9 L1271.7,138.9 L1274.2,138.9 L1276.7,138.9 L1279.2,138.9 L1281.7,138.9 L1284.2,138.9 L1286.7,138.9 L1289.2,138.9 L1291.7,138.9 L1294.2,138.9 L1296.7,138.9 L1299.1,138.9 L1301.6,138.9 L1304.1,138.9 L1306.6,138.9 L1309.1,138.9 L1311.6,138.9 L1314.1,138.9 L1316.6,138.9 L1319.1,138.9 L1321.6,138.9 L1324.1,138.9 L1326.6,138.9 L1329.0,138.9 L1331.5,138.9 L1334.0,138.9 L1336.5,138.9 L1339.0,138.9 L1341.5,138.9 L1344.0,138.9 L1346.5,138.9 L1349.0,138.9 L1351.5,138.9 L1354.0,138.9 L1356.4,138.9 L1358.9,138.9 L1361.4,138.9 L1363.9,138.9 L1366.4,138.9 L1368.9,138.9 L1371.4,138.9 L1373.9,138.9 L1376.4,138.9 L1378.9,138.9 L1381.4,138.9 L1383.8,138.9 L1386.3,138.9 L1388.8,138.9 L1391.3,138.9 L1393.8,138.9 L1396.3,138.9 L1398.8,138.9 L1401.3,138.9 L1403.8,138.9 L1406.3,138.9 L1408.8,138.9 L1411.2,138.9 L1413.7,138.9 L1416.2,138.9 L1418.7,138.9 L1421.2,138.9 L1423.7,138.9 L1426.2,138.9 L1428.7,138.9 L1431.2,138.9 L1433.7,138.9 L1436.2,138.9 L1438.7,138.9 L1441.1,138.9 L1443.6,138.9 L1446.1,138.9 L1448.6,138.9 L1451.1,138.9 L1453.6,138.9 L1456.1,138.9 L1458.6,138.9 L1461.1,138.9 L1463.6,138.9 L1466.1,138.9 L1468.5,138.9 L1471.0,138.9 L1473.5,138.9 L1476.0,138.9 L1478.5,138.9 L1481.0,138.9" fill="none" stroke="#f8dfe3" stroke-width="5"/>
<path d="M835.8,491.0 L838.3,491.0 L840.8,491.0 L843.3,491.0 L845.8,491.0 L848.3,491.0 L850.7,491.0 L853.2,491.0 L855.7,490.9 L858.2,490.9 L860.7,490.9 L863.2,490.9 L865.7,490.9 L868.2,490.9 L870.7,490.9 L873.2,490.9 L875.7,490.9 L878.1,490.8 L880.6,490.8 L883.1,490.8 L885.6,490.8 L888.1,490.8 L890.6,490.8 L893.1,490.7 L895.6,490.7 L898.1,490.7 L900.6,490.7 L903.1,490.6 L905.6,490.6 L908.0,490.6 L910.5,490.5 L913.0,490.5 L915.5,490.5 L918.0,490.4 L920.5,490.4 L923.0,490.3 L925.5,490.3 L928.0,490.2 L930.5,490.2 L933.0,490.1 L935.4,490.1 L937.9,490.0 L940.4,489.9 L942.9,489.9 L945.4,489.8 L947.9,489.7 L950.4,489.6 L952.9,489.5 L955.4,489.4 L957.9,489.3 L960.4,489.2 L962.8,489.1 L965.3,489.0 L967.8,488.9 L970.3,488.7 L972.8,488.6 L975.3,488.4 L977.8,488.3 L980.3,488.1 L982.8,487.9 L985.3,487.7 L987.8,487.5 L990.2,487.3 L992.7,487.0 L995.2,486.8 L997.7,486.5 L1000.2,486.2 L1002.7,485.9 L1005.2,485.6 L1007.7,485.3 L1010.2,484.9 L1012.7,484.5 L1015.2,484.1 L1017.7,483.7 L1020.1,483.3 L1022.6,482.8 L1025.1,482.3 L1027.6,481.7 L1030.1,481.2 L1032.6,480.5 L1035.1,479.9 L1037.6,479.2 L1040.1,478.5 L1042.6,477.7 L1045.1,476.9 L1047.5,476.0 L1050.0,475.1 L1052.5,474.1 L1055.0,473.1 L1057.5,472.0 L1060.0,470.9 L1062.5,469.6 L1065.0,468.3 L1067.5,467.0 L1070.0,465.5 L1072.5,464.0 L1074.9,462.3 L1077.4,460.6 L1079.9,458.8 L1082.4,456.8 L1084.9,454.8 L1087.4,452.6 L1089.9,450.3 L1092.4,447.9 L1094.9,445.4 L1097.4,442.7 L1099.9,439.8 L1102.3,436.8 L1104.8,433.7 L1107.3,430.3 L1109.8,426.8 L1112.3,423.1 L1114.8,419.2 L1117.3,415.1 L1119.8,410.8 L1122.3,406.3 L1124.8,401.6 L1127.3,396.6 L1129.8,391.4 L1132.2,385.9 L1134.7,380.2 L1137.2,374.2 L1139.7,368.0 L1142.2,361.5 L1144.7,354.8 L1147.2,347.7 L1149.7,340.5 L1152.2,332.9 L1154.7,325.1 L1157.2,317.1 L1159.6,308.8 L1162.1,300.2 L1164.6,291.5 L1167.1,282.6 L1169.6,273.5 L1172.1,264.2 L1174.6,254.9 L1177.1,245.4 L1179.6,235.9 L1182.1,226.4 L1184.6,217.0 L1187.0,207.6 L1189.5,198.3 L1192.0,189.2 L1194.5,180.4 L1197.0,171.8 L1199.5,163.6 L1202.0,155.8 L1204.5,148.4 L1207.0,141.4 L1209.5,135.0 L1212.0,129.1 L1214.5,123.8 L1216.9,119.0 L1219.4,114.8 L1221.9,111.2 L1224.4,108.1 L1226.9,105.4 L1229.4,103.3 L1231.9,101.5 L1234.4,100.2 L1236.9,99.1 L1239.4,98.3 L1241.9,97.7 L1244.3,97.3 L1246.8,97.1 L1249.3,96.9 L1251.8,96.8 L1254.3,96.7 L1256.8,96.6 L1259.3,96.6 L1261.8,96.6 L1264.3,96.6 L1266.8,96.6 L1269.3,96.6 L1271.7,96.6 L1274.2,96.6 L1276.7,96.6 L1279.2,96.6 L1281.7,96.6 L1284.2,96.6 L1286.7,96.6 L1289.2,96.6 L1291.7,96.6 L1294.2,96.6 L1296.7,96.6 L1299.1,96.6 L1301.6,96.6 L1304.1,96.6 L1306.6,96.6 L1309.1,96.6 L1311.6,96.6 L1314.1,96.6 L1316.6,96.6 L1319.1,96.6 L1321.6,96.6 L1324.1,96.6 L1326.6,96.6 L1329.0,96.6 L1331.5,96.6 L1334.0,96.6 L1336.5,96.6 L1339.0,96.6 L1341.5,96.6 L1344.0,96.6 L1346.5,96.6 L1349.0,96.6 L1351.5,96.6 L1354.0,96.6 L1356.4,96.6 L1358.9,96.6 L1361.4,96.6 L1363.9,96.6 L1366.4,96.6 L1368.9,96.6 L1371.4,96.6 L1373.9,96.6 L1376.4,96.6 L1378.9,96.6 L1381.4,96.6 L1383.8,96.6 L1386.3,96.6 L1388.8,96.6 L1391.3,96.6 L1393.8,96.6 L1396.3,96.6 L1398.8,96.6 L1401.3,96.6 L1403.8,96.6 L1406.3,96.6 L1408.8,96.6 L1411.2,96.6 L1413.7,96.6 L1416.2,96.6 L1418.7,96.6 L1421.2,96.6 L1423.7,96.6 L1426.2,96.6 L1428.7,96.6 L1431.2,96.6 L1433.7,96.6 L1436.2,96.6 L1438.7,96.6 L1441.1,96.6 L1443.6,96.6 L1446.1,96.6 L1448.6,96.6 L1451.1,96.6 L1453.6,96.6 L1456.1,96.6 L1458.6,96.6 L1461.1,96.6 L1463.6,96.6 L1466.1,96.6 L1468.5,96.6 L1471.0,96.6 L1473.5,96.6 L1476.0,96.6 L1478.5,96.6 L1481.0,96.6" fill="none" stroke="#f4dede" stroke-width="8"/>
<path d="M835.8,448.7 L838.3,448.6 L840.8,448.6 L843.3,448.6 L845.8,448.6 L848.3,448.6 L850.7,448.6 L853.2,448.6 L855.7,448.5 L858.2,448.5 L860.7,448.5 L863.2,448.5 L865.7,448.5 L868.2,448.5 L870.7,448.4 L873.2,448.4 L875.7,448.4 L878.1,448.4 L880.6,448.3 L883.1,448.3 L885.6,448.3 L888.1,448.2 L890.6,448.2 L893.1,448.2 L895.6,448.1 L898.1,448.1 L900.6,448.0 L903.1,448.0 L905.6,447.9 L908.0,447.9 L910.5,447.8 L913.0,447.8 L915.5,447.7 L918.0,447.6 L920.5,447.6 L923.0,447.5 L925.5,447.4 L928.0,447.3 L930.5,447.2 L933.0,447.1 L935.4,447.0 L937.9,446.9 L940.4,446.8 L942.9,446.7 L945.4,446.5 L947.9,446.4 L950.4,446.2 L952.9,446.1 L955.4,445.9 L957.9,445.7 L960.4,445.6 L962.8,445.4 L965.3,445.1 L967.8,444.9 L970.3,444.7 L972.8,444.4 L975.3,444.2 L977.8,443.9 L980.3,443.6 L982.8,443.3 L985.3,443.0 L987.8,442.6 L990.2,442.2 L992.7,441.9 L995.2,441.4 L997.7,441.0 L1000.2,440.6 L1002.7,440.1 L1005.2,439.6 L1007.7,439.0 L1010.2,438.4 L1012.7,437.8 L1015.2,437.2 L1017.7,436.5 L1020.1,435.8 L1022.6,435.1 L1025.1,434.3 L1027.6,433.4 L1030.1,432.6 L1032.6,431.6 L1035.1,430.7 L1037.6,429.6 L1040.1,428.6 L1042.6,427.4 L1045.1,426.2 L1047.5,425.0 L1050.0,423.7 L1052.5,422.3 L1055.0,420.8 L1057.5,419.3 L1060.0,417.7 L1062.5,416.0 L1065.0,414.2 L1067.5,412.3 L1070.0,410.4 L1072.5,408.3 L1074.9,406.1 L1077.4,403.9 L1079.9,401.5 L1082.4,399.0 L1084.9,396.4 L1087.4,393.7 L1089.9,390.8 L1092.4,387.8 L1094.9,384.7 L1097.4,381.4 L1099.9,378.0 L1102.3,374.5 L1104.8,370.7 L1107.3,366.8 L1109.8,362.8 L1112.3,358.6 L1114.8,354.2 L1117.3,349.6 L1119.8,344.8 L1122.3,339.8 L1124.8,334.7 L1127.3,329.4 L1129.8,323.8 L1132.2,318.1 L1134.7,312.1 L1137.2,306.0 L1139.7,299.7 L1142.2,293.2 L1144.7,286.5 L1147.2,279.6 L1149.7,272.5 L1152.2,265.3 L1154.7,257.9 L1157.2,250.4 L1159.6,242.8 L1162.1,235.0 L1164.6,227.2 L1167.1,219.3 L1169.6,211.4 L1172.1,203.5 L1174.6,195.6 L1177.1,187.8 L1179.6,180.1 L1182.1,172.5 L1184.6,165.2 L1187.0,158.0 L1189.5,151.1 L1192.0,144.6 L1194.5,138.3 L1197.0,132.5 L1199.5,127.1 L1202.0,122.1 L1204.5,117.7 L1207.0,113.6 L1209.5,110.1 L1212.0,107.1 L1214.5,104.6 L1216.9,102.5 L1219.4,100.8 L1221.9,99.5 L1224.4,98.5 L1226.9,97.8 L1229.4,97.3 L1231.9,97.0 L1234.4,96.8 L1236.9,96.7 L1239.4,96.7 L1241.9,96.6 L1244.3,96.6 L1246.8,96.6 L1249.3,96.6 L1251.8,96.6 L1254.3,96.6 L1256.8,96.6 L1259.3,96.6 L1261.8,96.6 L1264.3,96.6 L1266.8,96.6 L1269.3,96.6 L1271.7,96.6 L1274.2,96.6 L1276.7,96.6 L1279.2,96.6 L1281.7,96.6 L1284.2,96.6 L1286.7,96.6 L1289.2,96.6 L1291.7,96.6 L1294.2,96.6 L1296.7,96.6 L1299.1,96.6 L1301.6,96.6 L1304.1,96.6 L1306.6,96.6 L1309.1,96.6 L1311.6,96.6 L1314.1,96.6 L1316.6,96.6 L1319.1,96.6 L1321.6,96.6 L1324.1,96.6 L1326.6,96.6 L1329.0,96.6 L1331.5,96.6 L1334.0,96.6 L1336.5,96.6 L1339.0,96.6 L1341.5,96.6 L1344.0,96.6 L1346.5,96.6 L1349.0,96.6 L1351.5,96.6 L1354.0,96.6 L1356.4,96.6 L1358.9,96.6 L1361.4,96.6 L1363.9,96.6 L1366.4,96.6 L1368.9,96.6 L1371.4,96.6 L1373.9,96.6 L1376.4,96.6 L1378.9,96.6 L1381.4,96.6 L1383.8,96.6 L1386.3,96.6 L1388.8,96.6 L1391.3,96.6 L1393.8,96.6 L1396.3,96.6 L1398.8,96.6 L1401.3,96.6 L1403.8,96.6 L1406.3,96.6 L1408.8,96.6 L1411.2,96.6 L1413.7,96.6 L1416.2,96.6 L1418.7,96.6 L1421.2,96.6 L1423.7,96.6 L1426.2,96.6 L1428.7,96.6 L1431.2,96.6 L1433.7,96.6 L1436.2,96.6 L1438.7,96.6 L1441.1,96.6 L1443.6,96.6 L1446.1,96.6 L1448.6,96.6 L1451.1,96.6 L1453.6,96.6 L1456.1,96.6 L1458.6,96.6 L1461.1,96.6 L1463.6,96.6 L1466.1,96.6 L1468.5,96.6 L1471.0,96.6 L1473.5,96.6 L1476.0,96.6 L1478.5,96.6 L1481.0,96.6" fill="none" stroke="#650a19" stroke-width="2.7" stroke-dasharray="9 4.7"/>
<path d="M835.8,491.1 L838.3,491.1 L840.8,491.1 L843.3,491.1 L845.8,491.1 L848.3,491.1 L850.7,491.1 L853.2,491.1 L855.7,491.1 L858.2,491.1 L860.7,491.1 L863.2,491.1 L865.7,491.1 L868.2,491.1 L870.7,491.1 L873.2,491.1 L875.7,491.1 L878.1,491.1 L880.6,491.1 L883.1,491.1 L885.6,491.1 L888.1,491.1 L890.6,491.1 L893.1,491.1 L895.6,491.1 L898.1,491.1 L900.6,491.1 L903.1,491.1 L905.6,491.1 L908.0,491.1 L910.5,491.1 L913.0,491.1 L915.5,491.1 L918.0,491.1 L920.5,491.1 L923.0,491.1 L925.5,491.1 L928.0,491.1 L930.5,491.1 L933.0,491.1 L935.4,491.1 L937.9,491.1 L940.4,491.1 L942.9,491.1 L945.4,491.1 L947.9,491.1 L950.4,491.1 L952.9,491.1 L955.4,491.0 L957.9,491.0 L960.4,491.0 L962.8,491.0 L965.3,491.0 L967.8,491.0 L970.3,491.0 L972.8,491.0 L975.3,491.0 L977.8,490.9 L980.3,490.9 L982.8,490.9 L985.3,490.9 L987.8,490.9 L990.2,490.8 L992.7,490.8 L995.2,490.8 L997.7,490.7 L1000.2,490.7 L1002.7,490.6 L1005.2,490.6 L1007.7,490.5 L1010.2,490.5 L1012.7,490.4 L1015.2,490.3 L1017.7,490.2 L1020.1,490.1 L1022.6,490.0 L1025.1,489.9 L1027.6,489.7 L1030.1,489.6 L1032.6,489.4 L1035.1,489.2 L1037.6,489.0 L1040.1,488.8 L1042.6,488.6 L1045.1,488.3 L1047.5,488.0 L1050.0,487.7 L1052.5,487.4 L1055.0,487.0 L1057.5,486.6 L1060.0,486.1 L1062.5,485.6 L1065.0,485.1 L1067.5,484.5 L1070.0,483.9 L1072.5,483.2 L1074.9,482.4 L1077.4,481.6 L1079.9,480.7 L1082.4,479.7 L1084.9,478.7 L1087.4,477.5 L1089.9,476.3 L1092.4,475.0 L1094.9,473.6 L1097.4,472.0 L1099.9,470.3 L1102.3,468.6 L1104.8,466.6 L1107.3,464.6 L1109.8,462.4 L1112.3,460.0 L1114.8,457.4 L1117.3,454.7 L1119.8,451.8 L1122.3,448.7 L1124.8,445.3 L1127.3,441.8 L1129.8,438.0 L1132.2,434.0 L1134.7,429.7 L1137.2,425.2 L1139.7,420.4 L1142.2,415.4 L1144.7,410.0 L1147.2,404.4 L1149.7,398.4 L1152.2,392.2 L1154.7,385.6 L1157.2,378.7 L1159.6,371.6 L1162.1,364.1 L1164.6,356.3 L1167.1,348.3 L1169.6,339.9 L1172.1,331.3 L1174.6,322.5 L1177.1,313.4 L1179.6,304.2 L1182.1,294.8 L1184.6,285.2 L1187.0,275.6 L1189.5,266.0 L1192.0,256.3 L1194.5,246.7 L1197.0,237.3 L1199.5,228.0 L1202.0,219.0 L1204.5,210.3 L1207.0,201.9 L1209.5,194.0 L1212.0,186.5 L1214.5,179.5 L1216.9,173.1 L1219.4,167.3 L1221.9,162.0 L1224.4,157.4 L1226.9,153.5 L1229.4,150.1 L1231.9,147.3 L1234.4,145.0 L1236.9,143.2 L1239.4,141.9 L1241.9,140.9 L1244.3,140.2 L1246.8,139.7 L1249.3,139.4 L1251.8,139.2 L1254.3,139.0 L1256.8,139.0 L1259.3,138.9 L1261.8,138.9 L1264.3,138.9 L1266.8,138.9 L1269.3,138.9 L1271.7,138.9 L1274.2,138.9 L1276.7,138.9 L1279.2,138.9 L1281.7,138.9 L1284.2,138.9 L1286.7,138.9 L1289.2,138.9 L1291.7,138.9 L1294.2,138.9 L1296.7,138.9 L1299.1,138.9 L1301.6,138.9 L1304.1,138.9 L1306.6,138.9 L1309.1,138.9 L1311.6,138.9 L1314.1,138.9 L1316.6,138.9 L1319.1,138.9 L1321.6,138.9 L1324.1,138.9 L1326.6,138.9 L1329.0,138.9 L1331.5,138.9 L1334.0,138.9 L1336.5,138.9 L1339.0,138.9 L1341.5,138.9 L1344.0,138.9 L1346.5,138.9 L1349.0,138.9 L1351.5,138.9 L1354.0,138.9 L1356.4,138.9 L1358.9,138.9 L1361.4,138.9 L1363.9,138.9 L1366.4,138.9 L1368.9,138.9 L1371.4,138.9 L1373.9,138.9 L1376.4,138.9 L1378.9,138.9 L1381.4,138.9 L1383.8,138.9 L1386.3,138.9 L1388.8,138.9 L1391.3,138.9 L1393.8,138.9 L1396.3,138.9 L1398.8,138.9 L1401.3,138.9 L1403.8,138.9 L1406.3,138.9 L1408.8,138.9 L1411.2,138.9 L1413.7,138.9 L1416.2,138.9 L1418.7,138.9 L1421.2,138.9 L1423.7,138.9 L1426.2,138.9 L1428.7,138.9 L1431.2,138.9 L1433.7,138.9 L1436.2,138.9 L1438.7,138.9 L1441.1,138.9 L1443.6,138.9 L1446.1,138.9 L1448.6,138.9 L1451.1,138.9 L1453.6,138.9 L1456.1,138.9 L1458.6,138.9 L1461.1,138.9 L1463.6,138.9 L1466.1,138.9 L1468.5,138.9 L1471.0,138.9 L1473.5,138.9 L1476.0,138.9 L1478.5,138.9 L1481.0,138.9" fill="none" stroke="#650a19" stroke-width="2.7" stroke-dasharray="9 4.7"/>
<path d="M835.8,491.0 L838.3,491.0 L840.8,491.0 L843.3,491.0 L845.8,491.0 L848.3,491.0 L850.7,491.0 L853.2,491.0 L855.7,490.9 L858.2,490.9 L860.7,490.9 L863.2,490.9 L865.7,490.9 L868.2,490.9 L870.7,490.9 L873.2,490.9 L875.7,490.9 L878.1,490.8 L880.6,490.8 L883.1,490.8 L885.6,490.8 L888.1,490.8 L890.6,490.8 L893.1,490.7 L895.6,490.7 L898.1,490.7 L900.6,490.7 L903.1,490.6 L905.6,490.6 L908.0,490.6 L910.5,490.5 L913.0,490.5 L915.5,490.5 L918.0,490.4 L920.5,490.4 L923.0,490.3 L925.5,490.3 L928.0,490.2 L930.5,490.2 L933.0,490.1 L935.4,490.1 L937.9,490.0 L940.4,489.9 L942.9,489.9 L945.4,489.8 L947.9,489.7 L950.4,489.6 L952.9,489.5 L955.4,489.4 L957.9,489.3 L960.4,489.2 L962.8,489.1 L965.3,489.0 L967.8,488.9 L970.3,488.7 L972.8,488.6 L975.3,488.4 L977.8,488.3 L980.3,488.1 L982.8,487.9 L985.3,487.7 L987.8,487.5 L990.2,487.3 L992.7,487.0 L995.2,486.8 L997.7,486.5 L1000.2,486.2 L1002.7,485.9 L1005.2,485.6 L1007.7,485.3 L1010.2,484.9 L1012.7,484.5 L1015.2,484.1 L1017.7,483.7 L1020.1,483.3 L1022.6,482.8 L1025.1,482.3 L1027.6,481.7 L1030.1,481.2 L1032.6,480.5 L1035.1,479.9 L1037.6,479.2 L1040.1,478.5 L1042.6,477.7 L1045.1,476.9 L1047.5,476.0 L1050.0,475.1 L1052.5,474.1 L1055.0,473.1 L1057.5,472.0 L1060.0,470.9 L1062.5,469.6 L1065.0,468.3 L1067.5,467.0 L1070.0,465.5 L1072.5,464.0 L1074.9,462.3 L1077.4,460.6 L1079.9,458.8 L1082.4,456.8 L1084.9,454.8 L1087.4,452.6 L1089.9,450.3 L1092.4,447.9 L1094.9,445.4 L1097.4,442.7 L1099.9,439.8 L1102.3,436.8 L1104.8,433.7 L1107.3,430.3 L1109.8,426.8 L1112.3,423.1 L1114.8,419.2 L1117.3,415.1 L1119.8,410.8 L1122.3,406.3 L1124.8,401.6 L1127.3,396.6 L1129.8,391.4 L1132.2,385.9 L1134.7,380.2 L1137.2,374.2 L1139.7,368.0 L1142.2,361.5 L1144.7,354.8 L1147.2,347.7 L1149.7,340.5 L1152.2,332.9 L1154.7,325.1 L1157.2,317.1 L1159.6,308.8 L1162.1,300.2 L1164.6,291.5 L1167.1,282.6 L1169.6,273.5 L1172.1,264.2 L1174.6,254.9 L1177.1,245.4 L1179.6,235.9 L1182.1,226.4 L1184.6,217.0 L1187.0,207.6 L1189.5,198.3 L1192.0,189.2 L1194.5,180.4 L1197.0,171.8 L1199.5,163.6 L1202.0,155.8 L1204.5,148.4 L1207.0,141.4 L1209.5,135.0 L1212.0,129.1 L1214.5,123.8 L1216.9,119.0 L1219.4,114.8 L1221.9,111.2 L1224.4,108.1 L1226.9,105.4 L1229.4,103.3 L1231.9,101.5 L1234.4,100.2 L1236.9,99.1 L1239.4,98.3 L1241.9,97.7 L1244.3,97.3 L1246.8,97.1 L1249.3,96.9 L1251.8,96.8 L1254.3,96.7 L1256.8,96.6 L1259.3,96.6 L1261.8,96.6 L1264.3,96.6 L1266.8,96.6 L1269.3,96.6 L1271.7,96.6 L1274.2,96.6 L1276.7,96.6 L1279.2,96.6 L1281.7,96.6 L1284.2,96.6 L1286.7,96.6 L1289.2,96.6 L1291.7,96.6 L1294.2,96.6 L1296.7,96.6 L1299.1,96.6 L1301.6,96.6 L1304.1,96.6 L1306.6,96.6 L1309.1,96.6 L1311.6,96.6 L1314.1,96.6 L1316.6,96.6 L1319.1,96.6 L1321.6,96.6 L1324.1,96.6 L1326.6,96.6 L1329.0,96.6 L1331.5,96.6 L1334.0,96.6 L1336.5,96.6 L1339.0,96.6 L1341.5,96.6 L1344.0,96.6 L1346.5,96.6 L1349.0,96.6 L1351.5,96.6 L1354.0,96.6 L1356.4,96.6 L1358.9,96.6 L1361.4,96.6 L1363.9,96.6 L1366.4,96.6 L1368.9,96.6 L1371.4,96.6 L1373.9,96.6 L1376.4,96.6 L1378.9,96.6 L1381.4,96.6 L1383.8,96.6 L1386.3,96.6 L1388.8,96.6 L1391.3,96.6 L1393.8,96.6 L1396.3,96.6 L1398.8,96.6 L1401.3,96.6 L1403.8,96.6 L1406.3,96.6 L1408.8,96.6 L1411.2,96.6 L1413.7,96.6 L1416.2,96.6 L1418.7,96.6 L1421.2,96.6 L1423.7,96.6 L1426.2,96.6 L1428.7,96.6 L1431.2,96.6 L1433.7,96.6 L1436.2,96.6 L1438.7,96.6 L1441.1,96.6 L1443.6,96.6 L1446.1,96.6 L1448.6,96.6 L1451.1,96.6 L1453.6,96.6 L1456.1,96.6 L1458.6,96.6 L1461.1,96.6 L1463.6,96.6 L1466.1,96.6 L1468.5,96.6 L1471.0,96.6 L1473.5,96.6 L1476.0,96.6 L1478.5,96.6 L1481.0,96.6" fill="none" stroke="#960003" stroke-width="6"/>
<circle cx="1303.0" cy="96.8" r="5.8"/>
<circle cx="1311.0" cy="96.8" r="5.8"/>
<circle cx="1332.4" cy="96.8" r="5.8"/>
<circle cx="1351.3" cy="96.8" r="5.8"/>
<circle cx="1365.3" cy="96.8" r="5.8"/>
<circle cx="1376.5" cy="96.8" r="5.8"/>
<circle cx="1384.0" cy="96.8" r="5.8"/>
<circle cx="1391.0" cy="96.8" r="5.8"/>
<circle cx="1396.7" cy="96.8" r="5.8"/>
<circle cx="1429.4" cy="96.8" r="5.8"/>
<circle cx="1254.5" cy="108.8" r="5.8"/>
<circle cx="1245.0" cy="121.1" r="5.8"/>
<circle cx="1236.3" cy="133.4" r="5.8"/>
<circle cx="1252.1" cy="133.4" r="5.8"/>
<circle cx="1291.0" cy="133.4" r="5.8"/>
<circle cx="1246.0" cy="170.9" r="5.8"/>
<circle cx="1229.3" cy="195.4" r="5.8"/>
<circle cx="1250.7" cy="194.6" r="5.8"/>
<circle cx="1250.4" cy="207.8" r="5.8"/>
<circle cx="1248.8" cy="232.4" r="5.8"/>
<circle cx="1197.5" cy="183.2" r="5.8"/>
<circle cx="1153.0" cy="109.4" r="5.8"/>
<circle cx="1156.5" cy="109.4" r="5.8"/>
<circle cx="1146.5" cy="170.3" r="5.8"/>
<circle cx="1087.8" cy="182.9" r="5.8"/>
<circle cx="1065.2" cy="244.5" r="5.8"/>
<circle cx="1079.2" cy="281.5" r="5.8"/>
<circle cx="1046.4" cy="330.3" r="5.8"/>
<circle cx="1043.2" cy="342.5" r="5.8"/>
<circle cx="1051.9" cy="343.3" r="5.8"/>
<circle cx="1034.5" cy="355.2" r="5.8"/>
<circle cx="1043.2" cy="355.2" r="5.8"/>
<circle cx="1031.3" cy="367.4" r="5.8"/>
<circle cx="1036.1" cy="367.4" r="5.8"/>
<circle cx="1026.6" cy="379.7" r="5.8"/>
<circle cx="1034.5" cy="379.7" r="5.8"/>
<circle cx="1017.9" cy="392.1" r="5.8"/>
<circle cx="1339.9" cy="417.1" r="5.8"/>
<circle cx="1143.1" cy="306.0" r="5.8"/>
<circle cx="1166.3" cy="219.9" r="5.8"/>
<circle cx="1129.1" cy="355.4" r="5.8"/>
<circle cx="1123.6" cy="367.7" r="5.8"/>
<circle cx="1168.8" cy="367.7" r="5.8"/>
<circle cx="1145.8" cy="380.1" r="5.8"/>
<circle cx="1156.9" cy="380.1" r="5.8"/>
<circle cx="1145.8" cy="392.5" r="5.8"/>
<circle cx="1175.1" cy="392.5" r="5.8"/>
<circle cx="931.1" cy="478.8" r="5.8"/>
<circle cx="960.4" cy="478.8" r="5.8"/>
<circle cx="976.6" cy="478.8" r="5.8"/>
<circle cx="988.2" cy="478.8" r="5.8"/>
<circle cx="994.0" cy="478.8" r="5.8"/>
<circle cx="1000.0" cy="478.8" r="5.8"/>
<circle cx="1006.0" cy="478.8" r="5.8"/>
<circle cx="1012.0" cy="478.8" r="5.8"/>
<circle cx="1018.0" cy="478.8" r="5.8"/>
<circle cx="1024.0" cy="478.8" r="5.8"/>
<circle cx="1030.0" cy="478.8" r="5.8"/>
<circle cx="1036.0" cy="478.8" r="5.8"/>
<circle cx="1042.0" cy="478.8" r="5.8"/>
<circle cx="1048.0" cy="478.8" r="5.8"/>
<circle cx="1054.0" cy="478.8" r="5.8"/>
<circle cx="1060.0" cy="478.8" r="5.8"/>
<circle cx="1066.0" cy="478.8" r="5.8"/>
<circle cx="1072.0" cy="478.8" r="5.8"/>
<circle cx="1078.0" cy="478.8" r="5.8"/>
<circle cx="1084.0" cy="478.8" r="5.8"/>
<circle cx="1090.0" cy="478.8" r="5.8"/>
<circle cx="1096.0" cy="478.8" r="5.8"/>
<circle cx="1102.0" cy="478.8" r="5.8"/>
<circle cx="1108.0" cy="478.8" r="5.8"/>
<circle cx="960.4" cy="466.4" r="5.8"/>
<circle cx="976.6" cy="466.4" r="5.8"/>
<circle cx="993.0" cy="466.4" r="5.8"/>
<circle cx="999.0" cy="466.4" r="5.8"/>
<circle cx="1005.0" cy="466.4" r="5.8"/>
<circle cx="1011.0" cy="466.4" r="5.8"/>
<circle cx="1017.0" cy="466.4" r="5.8"/>
<circle cx="1023.0" cy="466.4" r="5.8"/>
<circle cx="1029.0" cy="466.4" r="5.8"/>
<circle cx="1035.0" cy="466.4" r="5.8"/>
<circle cx="1041.0" cy="466.4" r="5.8"/>
<circle cx="1047.0" cy="466.4" r="5.8"/>
<circle cx="1053.0" cy="466.4" r="5.8"/>
<circle cx="1059.0" cy="466.4" r="5.8"/>
<circle cx="1065.0" cy="466.4" r="5.8"/>
<circle cx="1071.0" cy="466.4" r="5.8"/>
<circle cx="1077.0" cy="466.4" r="5.8"/>
<circle cx="1083.0" cy="466.4" r="5.8"/>
<circle cx="1089.0" cy="466.4" r="5.8"/>
<circle cx="1095.0" cy="466.4" r="5.8"/>
<circle cx="1101.0" cy="466.4" r="5.8"/>
<circle cx="1115.0" cy="466.4" r="5.8"/>
<circle cx="1123.0" cy="466.4" r="5.8"/>
<circle cx="976.9" cy="454.1" r="5.8"/>
<circle cx="988.2" cy="454.1" r="5.8"/>
<circle cx="998.5" cy="454.1" r="5.8"/>
<circle cx="1012.0" cy="454.1" r="5.8"/>
<circle cx="1040.6" cy="454.1" r="5.8"/>
<circle cx="1052.0" cy="454.1" r="5.8"/>
<circle cx="1058.0" cy="454.1" r="5.8"/>
<circle cx="1064.0" cy="454.1" r="5.8"/>
<circle cx="1070.0" cy="454.1" r="5.8"/>
<circle cx="1082.0" cy="454.1" r="5.8"/>
<circle cx="1088.0" cy="454.1" r="5.8"/>
<circle cx="1094.0" cy="454.1" r="5.8"/>
<circle cx="1100.0" cy="454.1" r="5.8"/>
<circle cx="1106.0" cy="454.1" r="5.8"/>
<circle cx="1112.0" cy="454.1" r="5.8"/>
<circle cx="988.2" cy="441.8" r="5.8"/>
<circle cx="997.7" cy="441.8" r="5.8"/>
<circle cx="1005.6" cy="441.8" r="5.8"/>
<circle cx="1031.5" cy="441.8" r="5.8"/>
<circle cx="1051.1" cy="441.8" r="5.8"/>
<circle cx="1064.3" cy="441.8" r="5.8"/>
<circle cx="1077.0" cy="441.8" r="5.8"/>
<circle cx="1083.0" cy="441.8" r="5.8"/>
<circle cx="1089.0" cy="441.8" r="5.8"/>
<circle cx="1103.8" cy="441.8" r="5.8"/>
<circle cx="1111.7" cy="441.8" r="5.8"/>
<circle cx="1119.6" cy="441.8" r="5.8"/>
<circle cx="1125.2" cy="441.8" r="5.8"/>
<circle cx="997.7" cy="429.5" r="5.8"/>
<circle cx="1007.2" cy="429.5" r="5.8"/>
<circle cx="1015.1" cy="429.5" r="5.8"/>
<circle cx="1025.5" cy="429.5" r="5.8"/>
<circle cx="1037.6" cy="429.5" r="5.8"/>
<circle cx="1057.6" cy="429.5" r="5.8"/>
<circle cx="1087.0" cy="429.5" r="5.8"/>
<circle cx="1094.0" cy="429.5" r="5.8"/>
<circle cx="1101.5" cy="429.5" r="5.8"/>
<circle cx="1125.0" cy="429.5" r="5.8"/>
<circle cx="1007.0" cy="417.1" r="5.8"/>
<circle cx="1013.0" cy="417.1" r="5.8"/>
<circle cx="1043.7" cy="417.1" r="5.8"/>
<circle cx="1069.2" cy="417.1" r="5.8"/>
<circle cx="1088.6" cy="417.1" r="5.8"/>
<circle cx="1096.0" cy="417.1" r="5.8"/>
<circle cx="1103.8" cy="417.1" r="5.8"/>
<circle cx="1115.5" cy="417.1" r="5.8"/>
<circle cx="1012.0" cy="404.8" r="5.8"/>
<circle cx="1021.0" cy="404.8" r="5.8"/>
<circle cx="1031.4" cy="404.8" r="5.8"/>
<circle cx="1046.3" cy="404.8" r="5.8"/>
<circle cx="1072.3" cy="404.8" r="5.8"/>
<circle cx="1111.7" cy="404.8" r="5.8"/>
<circle cx="1119.6" cy="404.8" r="5.8"/>
<circle cx="1127.5" cy="404.8" r="5.8"/>
<circle cx="1058.0" cy="441.8" r="5.8"/>
<circle cx="1141.0" cy="417.1" r="5.8"/>
</g>
<rect x="835.8" y="77.1" width="645.2" height="433.8" fill="none" stroke="#2a2a2a" stroke-width="1.7"/>
<path d="M830.8,491.1 H835.8 M830.8,412.2 H835.8 M830.8,333.3 H835.8 M830.8,254.4 H835.8 M830.8,175.5 H835.8 M830.8,96.6 H835.8 M840.9,510.9 V513.7 M857.7,510.9 V513.7 M869.7,510.9 V513.7 M878.9,510.9 V513.7 M886.5,510.9 V513.7 M892.9,510.9 V513.7 M898.4,510.9 V513.7 M903.3,510.9 V513.7 M907.7,510.9 V515.4 M936.5,510.9 V513.7 M953.3,510.9 V513.7 M965.2,510.9 V513.7 M974.5,510.9 V513.7 M982.1,510.9 V513.7 M988.4,510.9 V513.7 M994.0,510.9 V513.7 M998.9,510.9 V513.7 M1003.2,510.9 V515.4 M1032.0,510.9 V513.7 M1048.8,510.9 V513.7 M1060.8,510.9 V513.7 M1070.0,510.9 V513.7 M1077.6,510.9 V513.7 M1084.0,510.9 V513.7 M1089.5,510.9 V513.7 M1094.4,510.9 V513.7 M1098.8,510.9 V515.4 M1127.6,510.9 V513.7 M1144.4,510.9 V513.7 M1156.3,510.9 V513.7 M1165.6,510.9 V513.7 M1173.2,510.9 V513.7 M1179.5,510.9 V513.7 M1185.1,510.9 V513.7 M1190.0,510.9 V513.7 M1194.3,510.9 V515.4 M1223.1,510.9 V513.7 M1239.9,510.9 V513.7 M1251.9,510.9 V513.7 M1261.1,510.9 V513.7 M1268.7,510.9 V513.7 M1275.1,510.9 V513.7 M1280.6,510.9 V513.7 M1285.5,510.9 V513.7 M1289.9,510.9 V515.4 M1318.7,510.9 V513.7 M1335.5,510.9 V513.7 M1347.4,510.9 V513.7 M1356.7,510.9 V513.7 M1364.3,510.9 V513.7 M1370.6,510.9 V513.7 M1376.2,510.9 V513.7 M1381.1,510.9 V513.7 M1385.5,510.9 V515.4 M1414.2,510.9 V513.7 M1431.0,510.9 V513.7 M1443.0,510.9 V513.7 M1452.2,510.9 V513.7 M1459.8,510.9 V513.7 M1466.2,510.9 V513.7 M1471.7,510.9 V513.7 M1476.6,510.9 V513.7 M1481.0,510.9 V515.4" stroke="#2a2a2a" stroke-width="1.7" fill="none"/>
<text x="47" y="38.3" font-size="48.5" fill="#000" textLength="28.5" lengthAdjust="spacingAndGlyphs">A</text>
<text x="346" y="38" font-size="46" fill="#000" textLength="113" lengthAdjust="spacingAndGlyphs">Algae</text>
<text x="801" y="38.3" font-size="48.5" fill="#000" textLength="26" lengthAdjust="spacingAndGlyphs">B</text>
<text x="1107.8" y="38" font-size="48.5" fill="#000" textLength="107" lengthAdjust="spacingAndGlyphs">MWs</text>
<text x="51.1" y="498.8" font-size="21" font-weight="bold" fill="#393939" text-anchor="middle">0</text>
<text x="51.1" y="419.3" font-size="21" font-weight="bold" fill="#393939" text-anchor="middle">20</text>
<text x="51.1" y="339.8" font-size="21" font-weight="bold" fill="#393939" text-anchor="middle">40</text>
<text x="51.1" y="260.4" font-size="21" font-weight="bold" fill="#393939" text-anchor="middle">60</text>
<text x="51.1" y="180.9" font-size="21" font-weight="bold" fill="#393939" text-anchor="middle">80</text>
<text x="51.1" y="101.4" font-size="21" font-weight="bold" fill="#393939" text-anchor="middle">100</text>
<text x="151.7" y="534.3" font-size="20.5" font-weight="bold" fill="#393939" text-anchor="end">10</text>
<text x="151.5" y="527.6" font-size="13.5" font-weight="bold" fill="#393939">-4</text>
<text x="246.9" y="534.3" font-size="20.5" font-weight="bold" fill="#393939" text-anchor="end">10</text>
<text x="246.7" y="527.6" font-size="13.5" font-weight="bold" fill="#393939">-3</text>
<text x="342.1" y="534.3" font-size="20.5" font-weight="bold" fill="#393939" text-anchor="end">10</text>
<text x="341.9" y="527.6" font-size="13.5" font-weight="bold" fill="#393939">-2</text>
<text x="437.4" y="534.3" font-size="20.5" font-weight="bold" fill="#393939" text-anchor="end">10</text>
<text x="437.2" y="527.6" font-size="13.5" font-weight="bold" fill="#393939">-1</text>
<text x="533.2" y="534.3" font-size="20.5" font-weight="bold" fill="#393939" text-anchor="middle">1</text>
<text x="628.4" y="534.3" font-size="20.5" font-weight="bold" fill="#393939" text-anchor="middle">10</text>
<text x="725.7" y="534.3" font-size="20.5" font-weight="bold" fill="#393939" text-anchor="middle">100</text>
<text x="158.3" y="561" font-size="25.5" font-weight="bold" fill="#393939" textLength="69.0" lengthAdjust="spacingAndGlyphs">Mean</text>
<text x="233.8" y="561" font-size="25.5" font-weight="bold" fill="#393939" textLength="90.7" lengthAdjust="spacingAndGlyphs">relative</text>
<text x="330.6" y="561" font-size="25.5" font-weight="bold" fill="#393939" textLength="133.2" lengthAdjust="spacingAndGlyphs">abundance</text>
<text x="469.1" y="561" font-size="25.5" font-weight="bold" fill="#393939" textLength="75.5" lengthAdjust="spacingAndGlyphs">across</text>
<text x="550.6" y="561" font-size="25.5" font-weight="bold" fill="#393939" textLength="99.3" lengthAdjust="spacingAndGlyphs">samples</text>
<text transform="translate(20.6,508.2) rotate(-90)" x="0" y="0" font-size="26" font-weight="bold" fill="#393939" textLength="136.0" lengthAdjust="spacingAndGlyphs">Occurrence</text>
<text transform="translate(20.6,357.2) rotate(-90)" x="0" y="0" font-size="26" font-weight="bold" fill="#393939" textLength="121.0" lengthAdjust="spacingAndGlyphs">frequency</text>
<text transform="translate(20.6,225.8) rotate(-90)" x="0" y="0" font-size="26" font-weight="bold" fill="#393939" textLength="25.1" lengthAdjust="spacingAndGlyphs">in</text>
<text transform="translate(20.6,190.2) rotate(-90)" x="0" y="0" font-size="26" font-weight="bold" fill="#393939" textLength="98.2" lengthAdjust="spacingAndGlyphs">samples</text>
<text x="808.9" y="501.4" font-size="21" font-weight="bold" fill="#393939" text-anchor="middle">0</text>
<text x="808.9" y="421.9" font-size="21" font-weight="bold" fill="#393939" text-anchor="middle">20</text>
<text x="808.9" y="342.5" font-size="21" font-weight="bold" fill="#393939" text-anchor="middle">40</text>
<text x="808.9" y="263.0" font-size="21" font-weight="bold" fill="#393939" text-anchor="middle">60</text>
<text x="808.9" y="183.6" font-size="21" font-weight="bold" fill="#393939" text-anchor="middle">80</text>
<text x="808.9" y="104.1" font-size="21" font-weight="bold" fill="#393939" text-anchor="middle">100</text>
<text x="907.4" y="534.3" font-size="20.5" font-weight="bold" fill="#393939" text-anchor="end">10</text>
<text x="907.2" y="527.6" font-size="13.5" font-weight="bold" fill="#393939">-4</text>
<text x="1003.0" y="534.3" font-size="20.5" font-weight="bold" fill="#393939" text-anchor="end">10</text>
<text x="1002.8" y="527.6" font-size="13.5" font-weight="bold" fill="#393939">-3</text>
<text x="1098.5" y="534.3" font-size="20.5" font-weight="bold" fill="#393939" text-anchor="end">10</text>
<text x="1098.3" y="527.6" font-size="13.5" font-weight="bold" fill="#393939">-2</text>
<text x="1194.0" y="534.3" font-size="20.5" font-weight="bold" fill="#393939" text-anchor="end">10</text>
<text x="1193.8" y="527.6" font-size="13.5" font-weight="bold" fill="#393939">-1</text>
<text x="1290.2" y="534.3" font-size="20.5" font-weight="bold" fill="#393939" text-anchor="middle">1</text>
<text x="1385.8" y="534.3" font-size="20.5" font-weight="bold" fill="#393939" text-anchor="middle">10</text>
<text x="1481.3" y="534.3" font-size="20.5" font-weight="bold" fill="#393939" text-anchor="middle">100</text>
<text x="914.5" y="564" font-size="25.5" font-weight="bold" fill="#393939" textLength="69.0" lengthAdjust="spacingAndGlyphs">Mean</text>
<text x="990.0" y="564" font-size="25.5" font-weight="bold" fill="#393939" textLength="90.7" lengthAdjust="spacingAndGlyphs">relative</text>
<text x="1086.8" y="564" font-size="25.5" font-weight="bold" fill="#393939" textLength="133.2" lengthAdjust="spacingAndGlyphs">abundance</text>
<text x="1225.3" y="564" font-size="25.5" font-weight="bold" fill="#393939" textLength="75.5" lengthAdjust="spacingAndGlyphs">across</text>
<text x="1306.8" y="564" font-size="25.5" font-weight="bold" fill="#393939" textLength="99.3" lengthAdjust="spacingAndGlyphs">samples</text>
<text transform="translate(778.4,508.2) rotate(-90)" x="0" y="0" font-size="26" font-weight="bold" fill="#393939" textLength="136.0" lengthAdjust="spacingAndGlyphs">Occurrence</text>
<text transform="translate(778.4,357.2) rotate(-90)" x="0" y="0" font-size="26" font-weight="bold" fill="#393939" textLength="121.0" lengthAdjust="spacingAndGlyphs">frequency</text>
<text transform="translate(778.4,225.8) rotate(-90)" x="0" y="0" font-size="26" font-weight="bold" fill="#393939" textLength="25.1" lengthAdjust="spacingAndGlyphs">in</text>
<text transform="translate(778.4,190.2) rotate(-90)" x="0" y="0" font-size="26" font-weight="bold" fill="#393939" textLength="98.2" lengthAdjust="spacingAndGlyphs">samples</text>
<text x="110.3" y="116.8" font-size="21.5" font-style="italic" fill="#000">R</text>
<text x="126.6" y="108.9" font-size="15" fill="#000">2</text>
<rect x="142.5" y="107.3" width="12.7" height="1.8" fill="#000"/>
<rect x="142.5" y="111.7" width="12.7" height="1.8" fill="#000"/>
<text x="162.0" y="116.8" font-size="22" fill="#000" textLength="45.5" lengthAdjust="spacingAndGlyphs">0.88</text>
<text x="868.1" y="119.6" font-size="21.5" font-style="italic" fill="#000">R</text>
<text x="884.4" y="111.7" font-size="15" fill="#000">2</text>
<rect x="900.3" y="110.1" width="12.7" height="1.8" fill="#000"/>
<rect x="900.3" y="114.5" width="12.7" height="1.8" fill="#000"/>
<text x="919.8" y="119.6" font-size="22" fill="#000" textLength="45.5" lengthAdjust="spacingAndGlyphs">0.74</text>
<text x="1139" y="112.3" font-size="14" fill="#000" text-anchor="end">ASV89/86</text>
<text x="1133.9" y="171.3" font-size="14" fill="#000" text-anchor="end">ASV33</text>
<text x="1075" y="186.6" font-size="14" fill="#000" text-anchor="end">ASV232</text>
<text x="1054" y="248" font-size="14" fill="#000" text-anchor="end">ASV694</text>
<text x="1068.4" y="285.2" font-size="14" fill="#000" text-anchor="end">ASV61</text>
<text x="1036.9" y="329.3" font-size="14" fill="#000" text-anchor="end">ASV599</text>
<text x="1031.8" y="344.1" font-size="14" fill="#000" text-anchor="end">ASV1317/149</text>
<text x="1019.8" y="356.7" font-size="14" fill="#000" text-anchor="end">ASV521/1694/413</text>
<text x="1006" y="370.2" font-size="14" fill="#000" text-anchor="end">ASV1496/1314</text>
<text x="1012.3" y="383.2" font-size="14" fill="#000" text-anchor="end">ASV1383/882/1531</text>
<text x="1255.2" y="174.3" font-size="14" fill="#000" text-anchor="start">ASV37</text>
<text x="1259.9" y="197.8" font-size="14" fill="#000" text-anchor="start">ASV23/6</text>
<text x="1261" y="213.3" font-size="14" fill="#000" text-anchor="start">ASV27</text>
<text x="1259.4" y="237.4" font-size="14" fill="#000" text-anchor="start">ASV15</text>
<text x="1348.7" y="421.9" font-size="14" fill="#000" text-anchor="start">ASV26</text>
</g>
</svg>
</body></html>
